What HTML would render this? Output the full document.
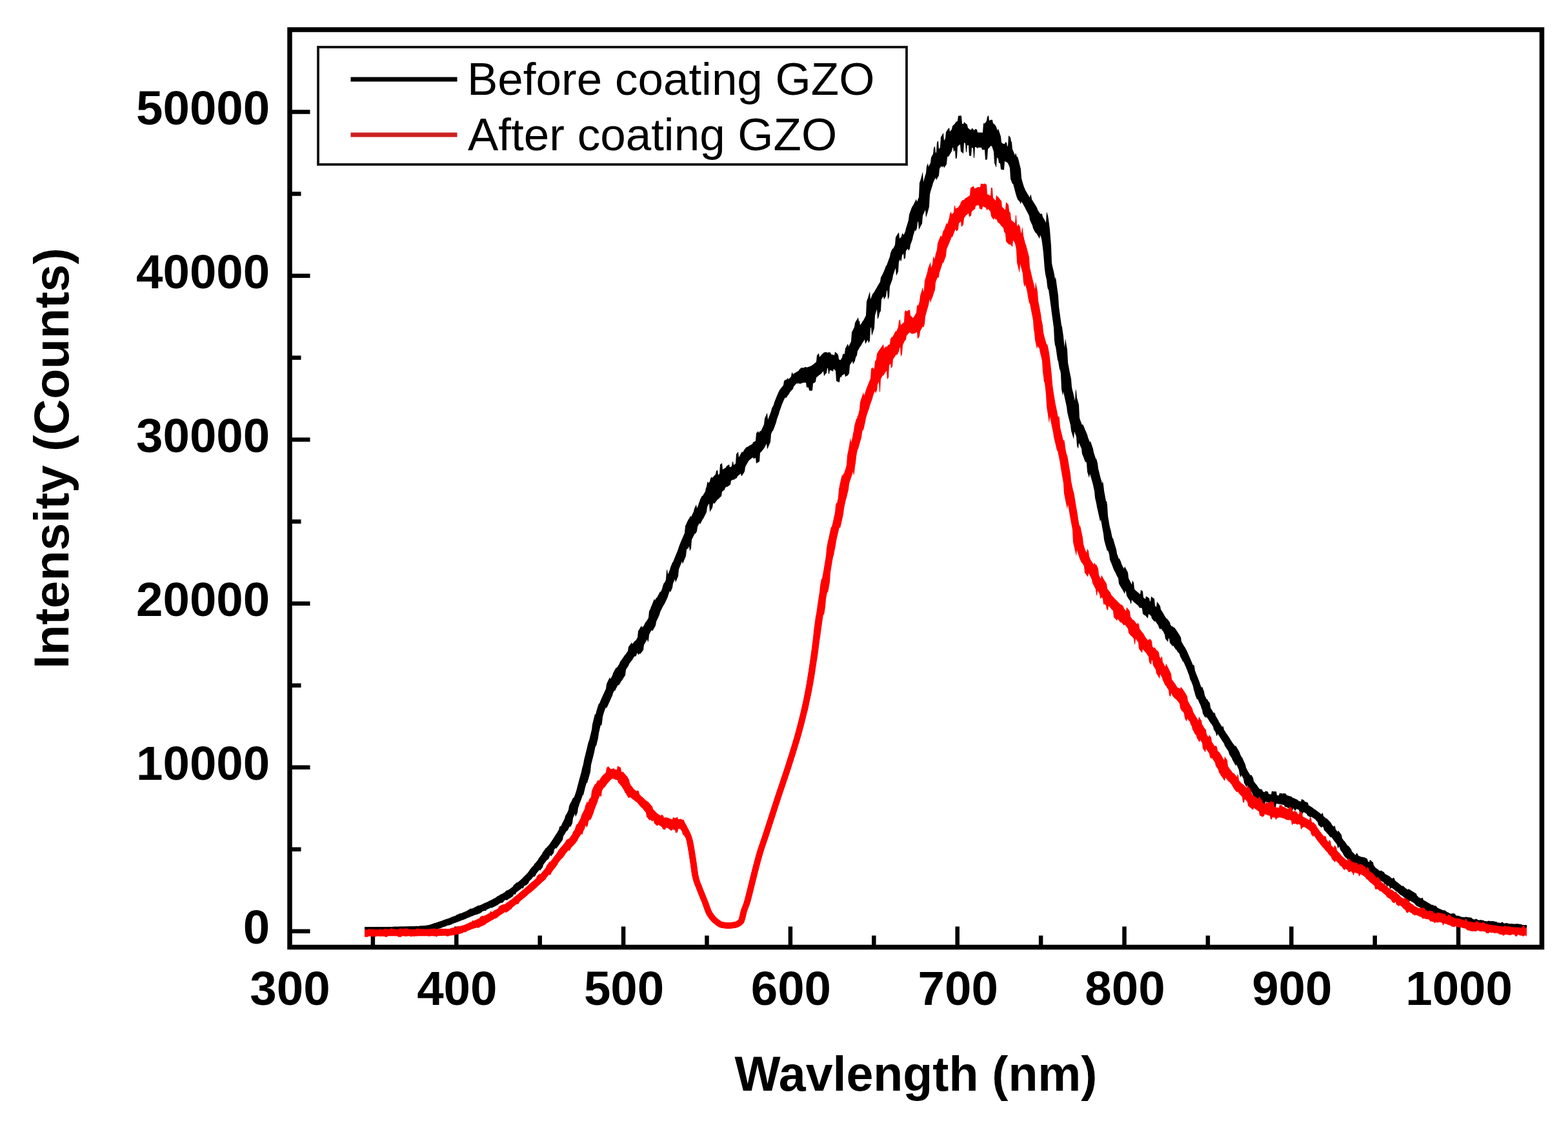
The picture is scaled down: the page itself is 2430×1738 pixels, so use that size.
<!DOCTYPE html>
<html><head><meta charset="utf-8"><title>Intensity vs Wavlength</title>
<style>
html,body{margin:0;padding:0;background:#fff;}
svg{display:block;}
</style></head>
<body>
<svg width="2430" height="1738" viewBox="0 0 2430 1738">
<rect width="2430" height="1738" fill="#fff"/>
<g stroke="#000" stroke-width="6.5" fill="none">
<line x1="577.9" y1="1468" x2="577.9" y2="1450.5"/><line x1="707.3" y1="1468" x2="707.3" y2="1436.5"/><line x1="836.7" y1="1468" x2="836.7" y2="1450.5"/><line x1="966.1" y1="1468" x2="966.1" y2="1436.5"/><line x1="1095.5" y1="1468" x2="1095.5" y2="1450.5"/><line x1="1224.9" y1="1468" x2="1224.9" y2="1436.5"/><line x1="1354.3" y1="1468" x2="1354.3" y2="1450.5"/><line x1="1483.7" y1="1468" x2="1483.7" y2="1436.5"/><line x1="1613.1" y1="1468" x2="1613.1" y2="1450.5"/><line x1="1742.5" y1="1468" x2="1742.5" y2="1436.5"/><line x1="1871.9" y1="1468" x2="1871.9" y2="1450.5"/><line x1="2001.3" y1="1468" x2="2001.3" y2="1436.5"/><line x1="2130.7" y1="1468" x2="2130.7" y2="1450.5"/><line x1="2260.1" y1="1468" x2="2260.1" y2="1436.5"/><line x1="449" y1="1443.8" x2="480.5" y2="1443.8"/><line x1="449" y1="1316.8" x2="466.5" y2="1316.8"/><line x1="449" y1="1189.7" x2="480.5" y2="1189.7"/><line x1="449" y1="1062.7" x2="466.5" y2="1062.7"/><line x1="449" y1="935.7" x2="480.5" y2="935.7"/><line x1="449" y1="808.6" x2="466.5" y2="808.6"/><line x1="449" y1="681.6" x2="480.5" y2="681.6"/><line x1="449" y1="554.6" x2="466.5" y2="554.6"/><line x1="449" y1="427.6" x2="480.5" y2="427.6"/><line x1="449" y1="300.5" x2="466.5" y2="300.5"/><line x1="449" y1="173.5" x2="480.5" y2="173.5"/>
</g>
<g fill="#000" stroke="none"><polygon points="565,1437.2 566,1437.2 567,1437.2 568,1437.2 569,1437.2 570,1437.2 571,1437.2 572,1437.2 573,1437.2 574,1437.2 575,1437.2 576,1437.2 577,1437.2 578,1437.2 579,1437.2 580,1437.2 581,1437.2 582,1437.2 583,1437.1 584,1437.1 585,1437.1 586,1437.1 587,1437.1 588,1437.1 589,1437.1 590,1437.1 591,1437.1 592,1437.0 593,1437.0 594,1437.0 595,1437.0 596,1437.0 597,1437.0 598,1436.9 599,1436.9 600,1436.9 601,1436.9 602,1436.9 603,1436.8 604,1436.9 605,1436.9 606,1436.9 607,1436.9 608,1436.9 609,1436.8 610,1436.8 611,1436.8 612,1436.8 613,1436.8 614,1436.8 615,1436.8 616,1436.7 617,1436.7 618,1436.7 619,1436.6 620,1436.6 621,1436.5 622,1436.6 623,1436.6 624,1436.4 625,1436.4 626,1436.3 627,1436.4 628,1436.4 629,1436.4 630,1436.4 631,1436.3 632,1436.4 633,1436.3 634,1436.3 635,1436.3 636,1436.3 637,1436.2 638,1436.3 639,1436.2 640,1436.2 641,1436.2 642,1436.1 643,1436.1 644,1435.7 645,1435.7 646,1435.7 647,1435.9 648,1435.9 649,1435.8 650,1435.8 651,1435.6 652,1435.5 653,1435.5 654,1435.4 655,1435.4 656,1435.3 657,1435.2 658,1435.2 659,1434.9 660,1434.8 661,1434.7 662,1434.5 663,1434.3 664,1434.3 665,1434.1 666,1433.8 667,1433.5 668,1433.2 669,1432.9 670,1432.5 671,1432.1 672,1431.8 673,1431.3 674,1431.0 675,1430.9 676,1430.6 677,1430.3 678,1429.7 679,1429.4 680,1429.1 681,1428.7 682,1428.6 683,1428.2 684,1427.9 685,1427.5 686,1427.0 687,1426.6 688,1426.3 689,1425.9 690,1425.5 691,1425.1 692,1424.9 693,1424.5 694,1424.4 695,1424.0 696,1423.6 697,1423.3 698,1422.9 699,1422.1 700,1421.7 701,1421.3 702,1420.9 703,1420.5 704,1420.6 705,1420.2 706,1419.8 707,1418.7 708,1418.3 709,1417.8 710,1417.4 711,1417.0 712,1416.5 713,1416.1 714,1416.2 715,1415.8 716,1415.4 717,1414.9 718,1414.5 719,1414.0 720,1413.8 721,1413.3 722,1412.9 723,1412.4 724,1412.0 725,1411.0 726,1410.6 727,1410.1 728,1409.3 729,1408.8 730,1408.4 731,1408.9 732,1408.4 733,1408.0 734,1407.6 735,1407.2 736,1406.3 737,1405.9 738,1405.5 739,1405.1 740,1404.3 741,1403.9 742,1403.5 743,1403.9 744,1403.5 745,1403.1 746,1402.6 747,1402.2 748,1401.7 749,1401.0 750,1400.6 751,1400.1 752,1399.7 753,1399.2 754,1398.8 755,1398.4 756,1397.9 757,1397.5 758,1396.8 759,1396.3 760,1395.9 761,1395.4 762,1394.9 763,1394.4 764,1393.8 765,1393.3 766,1392.8 767,1392.3 768,1391.7 769,1391.2 770,1390.1 771,1389.5 772,1389.0 773,1388.5 774,1387.9 775,1387.2 776,1386.6 777,1386.0 778,1385.9 779,1385.2 780,1384.6 781,1383.9 782,1383.2 783,1382.5 784,1381.5 785,1380.8 786,1380.1 787,1380.4 788,1379.6 789,1378.9 790,1378.2 791,1377.5 792,1376.7 793,1375.9 794,1375.2 795,1374.4 796,1372.2 797,1371.4 798,1370.5 799,1369.7 800,1368.8 801,1368.0 802,1368.3 803,1367.5 804,1366.6 805,1365.7 806,1364.9 807,1363.9 808,1363.1 809,1362.2 810,1361.0 811,1360.0 812,1359.0 813,1358.0 814,1357.0 815,1356.2 816,1355.1 817,1354.0 818,1352.9 819,1351.5 820,1350.3 821,1348.5 822,1347.3 823,1346.1 824,1344.8 825,1343.6 826,1343.0 827,1341.8 828,1339.7 829,1338.4 830,1337.8 831,1336.5 832,1335.2 833,1333.9 834,1332.5 835,1330.5 836,1329.2 837,1327.9 838,1326.6 839,1325.2 840,1323.9 841,1321.6 842,1320.2 843,1318.8 844,1317.4 845,1316.0 846,1314.6 847,1314.5 848,1313.1 849,1311.7 850,1311.1 851,1309.7 852,1308.3 853,1306.7 854,1305.2 855,1303.8 856,1302.3 857,1300.7 858,1299.2 859,1297.7 860,1296.1 861,1294.6 862,1293.0 863,1291.4 864,1289.8 865,1288.1 866,1286.4 867,1282.2 868,1280.4 869,1281.4 870,1279.6 871,1277.1 872,1275.2 873,1273.2 874,1271.2 875,1269.1 876,1265.2 877,1263.0 878,1262.2 879,1260.0 880,1257.7 881,1255.4 882,1249.6 883,1247.2 884,1244.9 885,1243.8 886,1241.5 887,1239.2 888,1237.0 889,1237.2 890,1234.9 891,1232.5 892,1229.6 893,1226.6 894,1222.7 895,1218.6 896,1215.2 897,1211.2 898,1207.2 899,1203.7 900,1200.2 901,1196.8 902,1191.6 903,1188.1 904,1184.5 905,1178.4 906,1174.6 907,1170.4 908,1166.4 909,1162.4 910,1158.3 911,1154.1 912,1149.9 913,1148.0 914,1143.8 915,1139.7 916,1135.6 917,1131.6 918,1123.1 919,1119.1 920,1115.1 921,1111.0 922,1106.8 923,1107.9 924,1103.8 925,1100.0 926,1096.7 927,1093.8 928,1091.1 929,1090.4 930,1087.9 931,1085.6 932,1083.3 933,1081.1 934,1078.7 935,1076.6 936,1074.6 937,1072.3 938,1070.1 939,1068.0 940,1060.5 941,1058.3 942,1056.2 943,1054.1 944,1052.1 945,1050.0 946,1053.0 947,1051.0 948,1049.1 949,1047.2 950,1043.7 951,1041.9 952,1040.1 953,1038.3 954,1036.6 955,1034.8 956,1035.4 957,1033.7 958,1032.0 959,1030.4 960,1028.8 961,1026.0 962,1024.4 963,1023.5 964,1022.0 965,1020.4 966,1018.9 967,1017.4 968,1016.0 969,1015.1 970,1013.7 971,1012.2 972,1010.8 973,1009.4 974,1003.0 975,1001.6 976,1000.2 977,998.8 978,997.5 979,996.1 980,998.7 981,997.3 982,996.1 983,994.8 984,993.6 985,993.2 986,991.9 987,989.7 988,988.4 989,978.3 990,976.8 991,975.2 992,973.6 993,971.8 994,969.9 995,973.3 996,971.3 997,971.5 998,969.5 999,967.5 1000,965.5 1001,963.7 1002,963.1 1003,961.3 1004,959.5 1005,957.7 1006,947.6 1007,945.7 1008,943.8 1009,940.6 1010,938.4 1011,936.0 1012,933.6 1013,931.1 1014,928.6 1015,931.1 1016,928.8 1017,926.7 1018,926.7 1019,924.7 1020,922.8 1021,920.9 1022,919.0 1023,917.0 1024,917.8 1025,915.5 1026,912.9 1027,908.9 1028,906.2 1029,903.5 1030,903.5 1031,900.9 1032,898.4 1033,885.0 1034,882.6 1035,890.6 1036,888.3 1037,885.9 1038,883.5 1039,879.8 1040,877.3 1041,874.7 1042,872.2 1043,871.3 1044,868.8 1045,866.3 1046,863.7 1047,861.2 1048,859.0 1049,856.5 1050,853.9 1051,851.3 1052,847.9 1053,845.3 1054,842.8 1055,840.3 1056,837.9 1057,835.5 1058,833.4 1059,831.0 1060,828.7 1061,826.5 1062,815.6 1063,813.4 1064,811.3 1065,809.1 1066,807.0 1067,804.9 1068,803.9 1069,801.8 1070,799.8 1071,801.4 1072,799.4 1073,797.3 1074,795.3 1075,793.3 1076,788.5 1077,786.4 1078,784.3 1079,782.2 1080,788.0 1081,785.9 1082,783.7 1083,779.9 1084,777.8 1085,774.5 1086,772.4 1087,770.4 1088,768.4 1089,768.9 1090,767.0 1091,765.2 1092,763.5 1093,761.9 1094,756.4 1095,754.8 1096,748.2 1097,746.5 1098,749.2 1099,747.7 1100,746.2 1101,742.0 1102,740.6 1103,739.3 1104,740.9 1105,739.7 1106,738.5 1107,737.4 1108,736.3 1109,735.3 1110,730.3 1111,729.4 1112,728.6 1113,736.3 1114,735.5 1115,734.7 1116,720.2 1117,719.5 1118,718.8 1119,718.1 1120,727.9 1121,727.2 1122,726.7 1123,726.1 1124,725.4 1125,724.7 1126,722.6 1127,721.9 1128,721.3 1129,720.7 1130,720.1 1131,724.5 1132,723.9 1133,723.4 1134,722.8 1135,716.0 1136,715.4 1137,721.0 1138,720.3 1139,719.6 1140,718.7 1141,704.1 1142,703.0 1143,701.7 1144,700.1 1145,708.9 1146,707.2 1147,705.4 1148,703.6 1149,701.8 1150,700.0 1151,701.6 1152,700.0 1153,697.8 1154,696.4 1155,695.3 1156,694.1 1157,693.2 1158,693.1 1159,692.4 1160,691.7 1161,691.1 1162,690.5 1163,689.9 1164,689.4 1165,688.8 1166,688.4 1167,685.7 1168,685.2 1169,684.7 1170,684.2 1171,683.5 1172,671.5 1173,670.7 1174,669.6 1175,668.2 1176,671.3 1177,669.6 1178,667.8 1179,668.7 1180,666.7 1181,664.6 1182,662.5 1183,660.2 1184,658.0 1185,648.9 1186,646.6 1187,644.4 1188,642.1 1189,639.9 1190,650.6 1191,648.2 1192,645.5 1193,642.9 1194,640.3 1195,637.6 1196,633.4 1197,630.9 1198,629.9 1199,627.2 1200,623.8 1201,621.3 1202,618.7 1203,616.2 1204,613.8 1205,611.4 1206,609.1 1207,606.9 1208,605.0 1209,603.4 1210,602.4 1211,601.0 1212,599.7 1213,598.5 1214,597.2 1215,590.9 1216,589.7 1217,588.6 1218,589.3 1219,588.2 1220,587.1 1221,586.0 1222,588.2 1223,587.0 1224,585.9 1225,584.8 1226,583.7 1227,578.3 1228,577.2 1229,580.5 1230,579.6 1231,578.8 1232,578.1 1233,577.7 1234,577.1 1235,576.5 1236,575.8 1237,575.2 1238,574.6 1239,572.4 1240,571.8 1241,570.8 1242,570.3 1243,569.8 1244,570.6 1245,570.2 1246,569.8 1247,569.4 1248,569.1 1249,568.7 1250,569.7 1251,569.4 1252,569.1 1253,568.8 1254,568.5 1255,568.1 1256,567.7 1257,567.2 1258,566.7 1259,566.0 1260,565.2 1261,564.4 1262,563.6 1263,562.8 1264,561.9 1265,561.1 1266,550.9 1267,550.0 1268,548.8 1269,547.4 1270,553.8 1271,552.5 1272,551.3 1273,550.2 1274,549.2 1275,548.3 1276,547.2 1277,546.6 1278,546.3 1279,546.1 1280,546.1 1281,546.1 1282,546.7 1283,546.8 1284,546.0 1285,546.2 1286,546.4 1287,546.6 1288,549.2 1289,549.5 1290,549.8 1291,550.1 1292,550.4 1293,550.7 1294,545.5 1295,546.1 1296,546.9 1297,547.8 1298,548.9 1299,550.0 1300,556.7 1301,557.7 1302,558.6 1303,557.4 1304,555.9 1305,554.3 1306,549.7 1307,548.0 1308,549.5 1309,548.0 1310,540.2 1311,538.5 1312,536.6 1313,534.7 1314,532.7 1315,537.4 1316,535.4 1317,533.4 1318,531.5 1319,529.5 1320,515.3 1321,513.3 1322,511.3 1323,509.3 1324,507.3 1325,500.5 1326,498.8 1327,497.1 1328,495.4 1329,493.8 1330,492.1 1331,498.5 1332,496.8 1333,504.3 1334,502.7 1335,501.2 1336,499.6 1337,498.0 1338,496.7 1339,494.9 1340,493.1 1341,491.1 1342,489.0 1343,467.5 1344,464.5 1345,461.9 1346,458.6 1347,455.1 1348,451.8 1349,464.4 1350,461.6 1351,459.1 1352,456.6 1353,454.4 1354,454.3 1355,452.3 1356,450.5 1357,448.7 1358,447.0 1359,445.4 1360,443.4 1361,441.8 1362,440.3 1363,438.6 1364,437.0 1365,430.3 1366,428.5 1367,426.7 1368,424.7 1369,422.6 1370,420.3 1371,417.7 1372,414.9 1373,412.1 1374,411.7 1375,408.8 1376,406.0 1377,403.2 1378,400.5 1379,397.9 1380,392.4 1381,390.1 1382,387.8 1383,385.6 1384,385.8 1385,383.8 1386,381.7 1387,379.8 1388,368.0 1389,366.2 1390,364.5 1391,362.9 1392,361.5 1393,360.2 1394,370.1 1395,369.0 1396,367.9 1397,366.8 1398,362.5 1399,361.3 1400,364.5 1401,362.9 1402,361.0 1403,358.7 1404,354.0 1405,350.9 1406,347.7 1407,344.4 1408,341.1 1409,332.8 1410,329.7 1411,326.9 1412,324.3 1413,321.8 1414,319.4 1415,318.8 1416,316.6 1417,314.6 1418,312.5 1419,310.5 1420,308.5 1421,312.9 1422,310.8 1423,308.0 1424,305.8 1425,283.5 1426,280.8 1427,277.6 1428,274.0 1429,270.0 1430,265.9 1431,282.6 1432,278.6 1433,274.8 1434,271.5 1435,268.6 1436,257.9 1437,255.4 1438,252.9 1439,258.8 1440,256.6 1441,254.6 1442,252.6 1443,244.2 1444,242.3 1445,240.4 1446,238.7 1447,229.7 1448,228.0 1449,226.4 1450,237.5 1451,236.0 1452,221.0 1453,219.5 1454,218.0 1455,231.3 1456,229.8 1457,228.3 1458,212.5 1459,210.9 1460,209.2 1461,207.4 1462,205.7 1463,218.0 1464,216.3 1465,214.6 1466,204.9 1467,203.3 1468,201.7 1469,200.3 1470,198.9 1471,197.7 1472,204.1 1473,202.9 1474,201.8 1475,200.6 1476,195.5 1477,194.4 1478,193.6 1479,192.6 1480,191.7 1481,189.4 1482,188.8 1483,188.2 1484,187.6 1485,179.8 1486,179.6 1487,179.4 1488,179.3 1489,179.4 1490,179.5 1491,191.8 1492,192.1 1493,192.6 1494,189.3 1495,190.0 1496,190.8 1497,191.7 1498,192.6 1499,193.6 1500,198.2 1501,199.1 1502,200.0 1503,200.6 1504,201.1 1505,201.4 1506,198.8 1507,199.2 1508,199.5 1509,201.7 1510,202.0 1511,200.1 1512,200.3 1513,200.4 1514,200.6 1515,205.3 1516,205.3 1517,205.4 1518,205.4 1519,205.4 1520,205.4 1521,205.4 1522,205.4 1523,205.4 1524,191.2 1525,191.3 1526,191.3 1527,190.5 1528,188.7 1529,186.9 1530,181.3 1531,179.8 1532,178.7 1533,187.0 1534,186.4 1535,186.1 1536,185.8 1537,185.7 1538,185.8 1539,191.2 1540,191.8 1541,192.4 1542,193.6 1543,194.9 1544,196.8 1545,200.1 1546,202.7 1547,199.3 1548,202.3 1549,205.4 1550,208.5 1551,211.5 1552,220.4 1553,221.9 1554,222.4 1555,222.8 1556,223.1 1557,223.3 1558,220.4 1559,220.6 1560,220.9 1561,226.4 1562,226.8 1563,210.1 1564,211.1 1565,212.1 1566,213.2 1567,219.0 1568,220.5 1569,231.5 1570,233.5 1571,235.9 1572,238.6 1573,241.3 1574,236.7 1575,240.0 1576,243.5 1577,242.7 1578,246.2 1579,250.0 1580,254.3 1581,258.2 1582,262.3 1583,275.9 1584,280.0 1585,283.6 1586,286.8 1587,290.0 1588,292.0 1589,294.8 1590,296.5 1591,298.0 1592,300.1 1593,301.6 1594,303.1 1595,304.7 1596,306.4 1597,301.6 1598,303.0 1599,309.1 1600,310.6 1601,312.2 1602,313.8 1603,315.2 1604,316.9 1605,318.6 1606,320.2 1607,321.9 1608,325.1 1609,326.7 1610,328.2 1611,329.7 1612,331.1 1613,332.3 1614,330.8 1615,332.0 1616,336.4 1617,337.8 1618,339.4 1619,341.2 1620,343.2 1621,345.6 1622,328.2 1623,330.9 1624,334.3 1625,340.2 1626,348.1 1627,356.3 1628,369.0 1629,381.0 1630,408.0 1631,412.8 1632,416.9 1633,421.1 1634,426.2 1635,432.4 1636,429.4 1637,436.8 1638,444.2 1639,451.5 1640,458.5 1641,475.1 1642,482.4 1643,489.7 1644,497.0 1645,504.3 1646,507.3 1647,514.4 1648,521.3 1649,531.9 1650,538.5 1651,524.5 1652,530.5 1653,536.4 1654,542.1 1655,562.1 1656,567.4 1657,572.7 1658,577.8 1659,582.7 1660,587.5 1661,600.3 1662,604.9 1663,608.6 1664,613.0 1665,617.3 1666,621.5 1667,602.9 1668,606.8 1669,616.7 1670,620.3 1671,623.9 1672,627.2 1673,647.9 1674,650.9 1675,653.7 1676,656.4 1677,658.9 1678,657.4 1679,659.8 1680,662.1 1681,664.8 1682,667.0 1683,669.3 1684,671.5 1685,673.9 1686,677.9 1687,680.4 1688,682.9 1689,685.4 1690,684.3 1691,687.1 1692,690.0 1693,692.9 1694,695.9 1695,701.4 1696,704.5 1697,707.6 1698,710.8 1699,711.2 1700,714.5 1701,718.3 1702,726.6 1703,730.4 1704,734.4 1705,738.4 1706,742.6 1707,745.2 1708,749.8 1709,746.0 1710,751.2 1711,760.6 1712,766.0 1713,771.4 1714,776.9 1715,777.1 1716,783.4 1717,799.8 1718,806.1 1719,812.0 1720,817.3 1721,820.6 1722,824.8 1723,830.3 1724,834.3 1725,834.8 1726,838.5 1727,842.0 1728,845.5 1729,848.8 1730,852.0 1731,858.2 1732,861.1 1733,863.9 1734,866.6 1735,866.1 1736,868.5 1737,870.7 1738,874.2 1739,876.2 1740,878.2 1741,880.1 1742,882.0 1743,878.1 1744,880.0 1745,881.9 1746,883.8 1747,885.8 1748,887.8 1749,896.5 1750,898.5 1751,900.5 1752,902.4 1753,904.4 1754,906.2 1755,900.0 1756,901.8 1757,903.4 1758,913.1 1759,914.5 1760,915.2 1761,916.3 1762,917.3 1763,917.9 1764,918.8 1765,919.7 1766,920.5 1767,921.4 1768,914.4 1769,915.2 1770,915.9 1771,916.7 1772,926.4 1773,927.1 1774,927.9 1775,928.7 1776,924.2 1777,924.9 1778,925.5 1779,926.2 1780,926.8 1781,927.5 1782,932.0 1783,932.6 1784,924.7 1785,925.4 1786,926.2 1787,926.9 1788,927.7 1789,928.6 1790,939.0 1791,940.0 1792,941.2 1793,932.9 1794,934.1 1795,935.5 1796,936.8 1797,938.3 1798,939.7 1799,945.1 1800,946.6 1801,948.1 1802,949.7 1803,951.2 1804,953.3 1805,954.9 1806,956.4 1807,957.9 1808,959.3 1809,959.5 1810,960.9 1811,962.3 1812,963.6 1813,965.0 1814,968.8 1815,970.1 1816,971.4 1817,970.4 1818,971.7 1819,973.1 1820,972.8 1821,974.2 1822,975.6 1823,977.1 1824,978.5 1825,980.0 1826,981.6 1827,983.1 1828,984.7 1829,986.3 1830,988.0 1831,995.0 1832,996.6 1833,998.3 1834,1000.0 1835,1001.7 1836,1002.9 1837,1004.7 1838,1006.8 1839,1008.6 1840,1010.6 1841,1013.3 1842,1015.3 1843,1017.5 1844,1019.7 1845,1022.0 1846,1024.4 1847,1026.7 1848,1029.3 1849,1031.8 1850,1030.3 1851,1032.9 1852,1040.0 1853,1042.6 1854,1045.3 1855,1047.5 1856,1050.1 1857,1052.4 1858,1055.1 1859,1057.8 1860,1060.7 1861,1063.5 1862,1066.3 1863,1064.2 1864,1067.0 1865,1069.7 1866,1072.1 1867,1077.9 1868,1080.1 1869,1082.2 1870,1084.2 1871,1084.0 1872,1086.0 1873,1087.8 1874,1088.5 1875,1090.3 1876,1097.2 1877,1098.9 1878,1100.6 1879,1102.3 1880,1104.0 1881,1105.7 1882,1104.6 1883,1106.3 1884,1109.9 1885,1111.6 1886,1113.2 1887,1114.9 1888,1116.5 1889,1119.0 1890,1120.6 1891,1122.2 1892,1123.8 1893,1125.4 1894,1127.0 1895,1125.4 1896,1127.0 1897,1131.4 1898,1132.9 1899,1134.5 1900,1136.2 1901,1137.8 1902,1139.0 1903,1140.6 1904,1142.1 1905,1143.6 1906,1145.1 1907,1147.1 1908,1148.6 1909,1150.0 1910,1151.5 1911,1153.0 1912,1154.0 1913,1155.5 1914,1157.0 1915,1156.1 1916,1157.7 1917,1159.3 1918,1161.1 1919,1162.8 1920,1164.5 1921,1166.3 1922,1169.4 1923,1171.4 1924,1173.5 1925,1174.2 1926,1176.4 1927,1178.7 1928,1181.0 1929,1183.3 1930,1185.5 1931,1189.9 1932,1192.0 1933,1194.0 1934,1195.9 1935,1197.6 1936,1199.3 1937,1200.8 1938,1202.5 1939,1200.9 1940,1202.6 1941,1204.3 1942,1206.0 1943,1211.1 1944,1212.7 1945,1213.7 1946,1215.2 1947,1216.2 1948,1217.6 1949,1218.9 1950,1220.8 1951,1221.9 1952,1222.9 1953,1223.8 1954,1223.2 1955,1223.8 1956,1224.3 1957,1227.0 1958,1227.4 1959,1227.9 1960,1228.3 1961,1226.3 1962,1226.6 1963,1227.0 1964,1227.3 1965,1227.6 1966,1230.8 1967,1231.0 1968,1231.3 1969,1231.5 1970,1231.7 1971,1226.6 1972,1226.8 1973,1226.9 1974,1227.0 1975,1227.2 1976,1227.0 1977,1227.1 1978,1227.2 1979,1232.9 1980,1233.0 1981,1233.2 1982,1233.3 1983,1229.5 1984,1229.7 1985,1229.9 1986,1230.1 1987,1230.3 1988,1230.5 1989,1229.9 1990,1230.1 1991,1230.3 1992,1230.6 1993,1230.8 1994,1233.0 1995,1233.3 1996,1233.5 1997,1233.8 1998,1234.1 1999,1234.4 2000,1234.6 2001,1235.0 2002,1235.3 2003,1236.7 2004,1237.0 2005,1237.4 2006,1237.7 2007,1238.1 2008,1238.9 2009,1239.2 2010,1239.6 2011,1239.9 2012,1241.4 2013,1241.7 2014,1242.1 2015,1242.5 2016,1242.9 2017,1238.9 2018,1239.3 2019,1239.8 2020,1240.2 2021,1240.7 2022,1242.7 2023,1243.3 2024,1243.1 2025,1243.7 2026,1244.2 2027,1244.8 2028,1248.6 2029,1249.2 2030,1249.6 2031,1250.2 2032,1250.8 2033,1251.4 2034,1252.1 2035,1253.1 2036,1253.7 2037,1254.4 2038,1255.0 2039,1255.7 2040,1256.5 2041,1257.3 2042,1258.0 2043,1258.7 2044,1259.5 2045,1260.3 2046,1261.1 2047,1261.9 2048,1262.7 2049,1260.0 2050,1260.9 2051,1265.3 2052,1266.2 2053,1267.1 2054,1268.1 2055,1269.0 2056,1268.8 2057,1269.8 2058,1270.8 2059,1271.8 2060,1272.9 2061,1274.0 2062,1275.1 2063,1276.3 2064,1278.4 2065,1279.6 2066,1280.8 2067,1282.1 2068,1279.8 2069,1281.2 2070,1285.7 2071,1287.0 2072,1288.4 2073,1289.8 2074,1287.5 2075,1288.9 2076,1290.3 2077,1291.7 2078,1293.1 2079,1294.4 2080,1299.8 2081,1301.1 2082,1302.4 2083,1303.8 2084,1304.4 2085,1305.9 2086,1307.4 2087,1308.9 2088,1310.3 2089,1311.8 2090,1311.3 2091,1312.8 2092,1314.2 2093,1315.5 2094,1316.8 2095,1319.7 2096,1320.9 2097,1321.9 2098,1322.8 2099,1324.3 2100,1325.1 2101,1325.7 2102,1322.7 2103,1323.2 2104,1323.7 2105,1326.5 2106,1327.0 2107,1327.4 2108,1327.8 2109,1328.2 2110,1328.7 2111,1328.4 2112,1328.8 2113,1329.2 2114,1328.9 2115,1329.4 2116,1329.9 2117,1330.5 2118,1331.1 2119,1331.7 2120,1335.4 2121,1336.1 2122,1336.8 2123,1333.0 2124,1333.8 2125,1334.6 2126,1335.4 2127,1336.3 2128,1337.2 2129,1341.8 2130,1342.7 2131,1344.6 2132,1345.4 2133,1346.3 2134,1346.8 2135,1347.6 2136,1348.4 2137,1349.2 2138,1349.9 2139,1350.6 2140,1349.5 2141,1350.1 2142,1350.7 2143,1351.2 2144,1351.8 2145,1352.3 2146,1354.6 2147,1355.1 2148,1355.7 2149,1356.2 2150,1356.8 2151,1357.4 2152,1357.8 2153,1358.5 2154,1359.1 2155,1360.3 2156,1361.0 2157,1361.7 2158,1362.3 2159,1360.4 2160,1361.1 2161,1361.9 2162,1365.1 2163,1365.9 2164,1366.7 2165,1367.4 2166,1368.3 2167,1369.1 2168,1369.9 2169,1370.7 2170,1371.5 2171,1372.3 2172,1373.2 2173,1374.0 2174,1373.1 2175,1373.9 2176,1374.7 2177,1375.9 2178,1376.7 2179,1377.4 2180,1378.2 2181,1378.9 2182,1379.6 2183,1378.1 2184,1378.8 2185,1379.5 2186,1380.0 2187,1380.7 2188,1381.3 2189,1382.0 2190,1382.5 2191,1383.2 2192,1383.8 2193,1384.4 2194,1385.0 2195,1385.7 2196,1388.7 2197,1389.3 2198,1390.7 2199,1391.3 2200,1391.9 2201,1392.5 2202,1392.2 2203,1392.8 2204,1391.7 2205,1392.3 2206,1395.4 2207,1395.9 2208,1396.5 2209,1397.0 2210,1397.6 2211,1398.2 2212,1398.8 2213,1399.4 2214,1400.0 2215,1400.6 2216,1401.2 2217,1401.8 2218,1402.4 2219,1403.0 2220,1402.6 2221,1403.2 2222,1403.8 2223,1404.4 2224,1403.9 2225,1404.5 2226,1405.1 2227,1406.7 2228,1407.2 2229,1407.9 2230,1408.5 2231,1409.0 2232,1409.3 2233,1409.8 2234,1410.2 2235,1410.7 2236,1411.1 2237,1411.5 2238,1411.1 2239,1411.5 2240,1412.0 2241,1412.4 2242,1413.8 2243,1414.2 2244,1414.6 2245,1415.0 2246,1415.4 2247,1416.3 2248,1416.6 2249,1417.0 2250,1416.0 2251,1416.4 2252,1415.8 2253,1416.2 2254,1416.5 2255,1416.8 2256,1419.1 2257,1419.4 2258,1419.7 2259,1419.5 2260,1419.8 2261,1420.0 2262,1420.3 2263,1421.1 2264,1421.3 2265,1421.6 2266,1421.8 2267,1422.0 2268,1421.8 2269,1422.0 2270,1422.2 2271,1421.4 2272,1421.6 2273,1421.8 2274,1422.0 2275,1422.2 2276,1422.3 2277,1422.2 2278,1422.4 2279,1422.6 2280,1422.8 2281,1422.9 2282,1424.8 2283,1425.0 2284,1425.3 2285,1425.4 2286,1425.6 2287,1424.6 2288,1424.8 2289,1425.0 2290,1426.2 2291,1426.4 2292,1426.5 2293,1426.7 2294,1426.1 2295,1426.2 2296,1426.4 2297,1426.5 2298,1426.7 2299,1426.8 2300,1427.8 2301,1427.9 2302,1428.1 2303,1428.2 2304,1428.4 2305,1428.5 2306,1427.6 2307,1427.7 2308,1427.8 2309,1428.0 2310,1428.1 2311,1428.2 2312,1428.0 2313,1428.1 2314,1428.2 2315,1428.3 2316,1428.5 2317,1428.9 2318,1429.1 2319,1429.3 2320,1429.4 2321,1430.4 2322,1430.5 2323,1430.6 2324,1430.7 2325,1430.8 2326,1430.9 2327,1429.6 2328,1429.7 2329,1429.8 2330,1431.3 2331,1431.4 2332,1431.5 2333,1431.6 2334,1431.0 2335,1431.1 2336,1431.2 2337,1431.8 2338,1431.9 2339,1431.9 2340,1432.2 2341,1432.3 2342,1432.0 2343,1432.1 2344,1432.2 2345,1432.3 2346,1432.4 2347,1432.5 2348,1432.6 2349,1432.6 2350,1432.1 2351,1432.2 2352,1432.3 2353,1432.4 2354,1432.5 2355,1432.8 2356,1432.9 2357,1432.9 2358,1433.0 2359,1433.9 2360,1434.0 2361,1434.1 2362,1434.2 2363,1434.3 2364,1433.9 2365,1434.0 2366,1434.0 2366,1445.2 2365,1445.1 2364,1445.0 2363,1445.0 2362,1444.9 2361,1444.8 2360,1444.7 2359,1446.1 2358,1446.0 2357,1445.9 2356,1445.8 2355,1445.7 2354,1445.6 2353,1444.1 2352,1444.0 2351,1443.9 2350,1443.8 2349,1444.8 2348,1444.7 2347,1444.6 2346,1444.6 2345,1444.5 2344,1444.4 2343,1444.3 2342,1444.2 2341,1444.1 2340,1444.0 2339,1443.9 2338,1442.7 2337,1442.6 2336,1442.5 2335,1442.7 2334,1442.6 2333,1442.5 2332,1442.4 2331,1442.7 2330,1442.6 2329,1442.5 2328,1442.4 2327,1441.8 2326,1441.7 2325,1441.5 2324,1441.4 2323,1441.3 2322,1441.2 2321,1441.2 2320,1441.1 2319,1441.0 2318,1440.9 2317,1441.5 2316,1441.4 2315,1441.3 2314,1441.2 2313,1440.9 2312,1440.8 2311,1440.3 2310,1440.2 2309,1440.1 2308,1440.0 2307,1439.8 2306,1439.7 2305,1439.3 2304,1439.2 2303,1439.1 2302,1439.2 2301,1439.0 2300,1438.9 2299,1438.8 2298,1438.6 2297,1438.5 2296,1438.4 2295,1438.2 2294,1438.1 2293,1437.9 2292,1437.8 2291,1437.6 2290,1437.7 2289,1437.6 2288,1437.4 2287,1438.0 2286,1437.9 2285,1437.7 2284,1437.6 2283,1437.4 2282,1437.2 2281,1436.4 2280,1436.2 2279,1436.0 2278,1435.8 2277,1435.8 2276,1435.6 2275,1435.4 2274,1434.3 2273,1434.1 2272,1433.9 2271,1433.7 2270,1433.5 2269,1433.3 2268,1433.3 2267,1433.1 2266,1432.7 2265,1432.5 2264,1432.3 2263,1432.1 2262,1431.8 2261,1431.6 2260,1431.7 2259,1431.4 2258,1431.2 2257,1431.0 2256,1430.7 2255,1430.4 2254,1430.2 2253,1429.9 2252,1429.7 2251,1431.0 2250,1430.7 2249,1430.4 2248,1430.2 2247,1429.9 2246,1427.8 2245,1427.5 2244,1427.2 2243,1426.8 2242,1426.5 2241,1426.1 2240,1427.2 2239,1426.8 2238,1426.5 2237,1426.1 2236,1425.7 2235,1423.7 2234,1423.3 2233,1422.9 2232,1424.6 2231,1424.2 2230,1423.8 2229,1420.9 2228,1420.4 2227,1420.0 2226,1419.5 2225,1419.0 2224,1418.5 2223,1418.4 2222,1417.9 2221,1417.3 2220,1416.8 2219,1416.3 2218,1415.7 2217,1416.0 2216,1415.4 2215,1414.8 2214,1414.3 2213,1413.7 2212,1412.9 2211,1412.4 2210,1411.8 2209,1411.2 2208,1410.6 2207,1410.1 2206,1409.9 2205,1409.3 2204,1408.8 2203,1408.2 2202,1407.7 2201,1407.1 2200,1406.8 2199,1406.3 2198,1405.7 2197,1405.3 2196,1404.7 2195,1404.2 2194,1403.6 2193,1401.4 2192,1400.9 2191,1399.9 2190,1399.3 2189,1398.7 2188,1398.1 2187,1397.5 2186,1396.9 2185,1396.3 2184,1398.1 2183,1397.5 2182,1396.9 2181,1396.3 2180,1395.7 2179,1393.1 2178,1392.4 2177,1391.8 2176,1391.5 2175,1390.8 2174,1389.6 2173,1388.9 2172,1388.2 2171,1387.9 2170,1387.1 2169,1386.4 2168,1385.2 2167,1384.4 2166,1383.4 2165,1382.6 2164,1381.8 2163,1381.5 2162,1380.7 2161,1379.6 2160,1378.9 2159,1378.1 2158,1377.3 2157,1377.0 2156,1376.3 2155,1378.4 2154,1377.7 2153,1374.3 2152,1373.6 2151,1372.9 2150,1374.7 2149,1374.1 2148,1371.5 2147,1370.9 2146,1370.3 2145,1369.7 2144,1367.8 2143,1367.3 2142,1366.7 2141,1366.2 2140,1365.7 2139,1365.1 2138,1364.5 2137,1363.9 2136,1366.9 2135,1366.3 2134,1363.1 2133,1362.4 2132,1361.7 2131,1361.0 2130,1360.3 2129,1362.6 2128,1361.8 2127,1361.0 2126,1360.1 2125,1359.3 2124,1357.1 2123,1356.2 2122,1355.4 2121,1352.7 2120,1351.9 2119,1351.0 2118,1350.2 2117,1351.9 2116,1351.1 2115,1346.7 2114,1346.0 2113,1345.4 2112,1344.9 2111,1344.3 2110,1343.9 2109,1343.4 2108,1342.9 2107,1343.7 2106,1343.3 2105,1342.9 2104,1342.4 2103,1344.4 2102,1343.9 2101,1343.5 2100,1343.0 2099,1342.5 2098,1340.5 2097,1339.9 2096,1339.3 2095,1338.7 2094,1338.0 2093,1338.6 2092,1337.7 2091,1336.8 2090,1335.8 2089,1333.3 2088,1332.2 2087,1331.0 2086,1329.8 2085,1329.5 2084,1328.2 2083,1326.8 2082,1325.3 2081,1323.1 2080,1321.6 2079,1320.2 2078,1318.7 2077,1317.2 2076,1313.7 2075,1312.2 2074,1315.2 2073,1313.9 2072,1309.4 2071,1308.1 2070,1306.7 2069,1305.4 2068,1304.3 2067,1302.9 2066,1301.5 2065,1300.2 2064,1298.8 2063,1297.4 2062,1298.6 2061,1297.2 2060,1295.9 2059,1294.6 2058,1293.4 2057,1292.2 2056,1291.2 2055,1290.1 2054,1289.0 2053,1288.0 2052,1287.0 2051,1283.1 2050,1282.1 2049,1281.2 2048,1283.4 2047,1282.4 2046,1281.5 2045,1280.7 2044,1279.8 2043,1278.9 2042,1274.4 2041,1273.6 2040,1272.8 2039,1271.1 2038,1270.3 2037,1269.6 2036,1268.8 2035,1268.1 2034,1267.4 2033,1267.0 2032,1266.3 2031,1267.3 2030,1266.7 2029,1266.0 2028,1265.4 2027,1264.8 2026,1264.3 2025,1261.8 2024,1261.2 2023,1260.6 2022,1260.1 2021,1259.6 2020,1259.0 2019,1261.8 2018,1261.3 2017,1260.8 2016,1260.3 2015,1259.9 2014,1259.5 2013,1255.7 2012,1255.3 2011,1254.9 2010,1254.5 2009,1254.1 2008,1256.8 2007,1256.5 2006,1256.1 2005,1253.8 2004,1253.5 2003,1257.2 2002,1256.9 2001,1256.6 2000,1256.3 1999,1253.8 1998,1253.5 1997,1253.2 1996,1252.9 1995,1251.8 1994,1251.6 1993,1251.3 1992,1251.0 1991,1250.8 1990,1248.3 1989,1248.0 1988,1247.8 1987,1247.6 1986,1247.4 1985,1247.1 1984,1246.9 1983,1246.7 1982,1246.5 1981,1246.4 1980,1246.3 1979,1246.2 1978,1246.1 1977,1251.5 1976,1251.4 1975,1251.3 1974,1251.1 1973,1251.0 1972,1250.9 1971,1247.1 1970,1247.0 1969,1246.8 1968,1244.7 1967,1244.5 1966,1244.3 1965,1244.0 1964,1243.8 1963,1243.5 1962,1243.3 1961,1243.0 1960,1248.2 1959,1247.9 1958,1247.5 1957,1247.1 1956,1246.7 1955,1242.1 1954,1241.7 1953,1241.2 1952,1240.7 1951,1239.5 1950,1238.9 1949,1238.3 1948,1237.7 1947,1238.4 1946,1237.5 1945,1236.5 1944,1235.5 1943,1234.3 1942,1233.2 1941,1230.2 1940,1228.8 1939,1227.5 1938,1226.0 1937,1224.5 1936,1222.5 1935,1220.9 1934,1219.3 1933,1217.6 1932,1220.6 1931,1218.9 1930,1217.2 1929,1215.5 1928,1213.8 1927,1207.2 1926,1205.5 1925,1203.6 1924,1201.6 1923,1205.4 1922,1203.2 1921,1200.9 1920,1193.9 1919,1191.6 1918,1189.3 1917,1187.1 1916,1184.9 1915,1187.5 1914,1185.5 1913,1183.6 1912,1181.8 1911,1180.1 1910,1178.4 1909,1175.6 1908,1174.0 1907,1172.5 1906,1170.9 1905,1169.4 1904,1165.2 1903,1163.7 1902,1162.3 1901,1160.8 1900,1159.1 1899,1157.7 1898,1156.2 1897,1153.0 1896,1151.5 1895,1150.0 1894,1148.5 1893,1146.9 1892,1145.4 1891,1143.8 1890,1142.3 1889,1140.7 1888,1139.2 1887,1137.6 1886,1141.6 1885,1140.1 1884,1135.8 1883,1134.3 1882,1132.7 1881,1131.1 1880,1126.7 1879,1125.1 1878,1123.5 1877,1121.8 1876,1121.3 1875,1119.6 1874,1117.9 1873,1116.3 1872,1114.6 1871,1112.9 1870,1112.7 1869,1111.1 1868,1113.1 1867,1111.5 1866,1109.7 1865,1108.0 1864,1106.2 1863,1100.3 1862,1098.4 1861,1094.7 1860,1092.6 1859,1090.5 1858,1088.3 1857,1085.9 1856,1083.4 1855,1084.6 1854,1082.0 1853,1079.3 1852,1076.5 1851,1072.3 1850,1069.5 1849,1064.3 1848,1061.6 1847,1058.9 1846,1056.3 1845,1054.7 1844,1052.1 1843,1047.6 1842,1045.0 1841,1042.4 1840,1039.8 1839,1037.3 1838,1034.8 1837,1032.6 1836,1030.3 1835,1028.0 1834,1025.9 1833,1025.4 1832,1023.4 1831,1021.5 1830,1019.6 1829,1017.9 1828,1014.3 1827,1012.6 1826,1012.1 1825,1010.5 1824,1008.9 1823,1007.3 1822,1006.7 1821,1005.2 1820,1003.7 1819,1002.3 1818,1000.8 1817,1002.0 1816,1000.6 1815,999.3 1814,998.0 1813,996.8 1812,990.6 1811,989.3 1810,995.2 1809,994.0 1808,992.8 1807,991.6 1806,990.5 1805,983.5 1804,982.3 1803,979.4 1802,978.2 1801,976.9 1800,975.5 1799,974.2 1798,975.9 1797,974.5 1796,973.1 1795,969.6 1794,968.2 1793,966.7 1792,965.3 1791,963.9 1790,962.5 1789,964.0 1788,962.6 1787,961.3 1786,960.1 1785,958.9 1784,955.1 1783,954.2 1782,953.5 1781,952.6 1780,951.8 1779,958.4 1778,957.7 1777,957.0 1776,955.3 1775,954.6 1774,953.9 1773,953.2 1772,952.5 1771,951.8 1770,943.4 1769,942.7 1768,941.9 1767,942.9 1766,942.1 1765,941.3 1764,939.0 1763,938.2 1762,937.4 1761,936.6 1760,935.8 1759,934.9 1758,934.2 1757,933.3 1756,932.2 1755,931.2 1754,930.1 1753,936.4 1752,935.3 1751,931.5 1750,930.1 1749,928.6 1748,926.9 1747,925.2 1746,923.5 1745,917.6 1744,915.7 1743,920.8 1742,918.9 1741,917.0 1740,915.1 1739,913.3 1738,912.1 1737,910.3 1736,908.6 1735,906.8 1734,905.1 1733,896.6 1732,894.8 1731,892.9 1730,890.9 1729,888.8 1728,886.7 1727,885.2 1726,882.9 1725,880.4 1724,877.8 1723,875.2 1722,872.5 1721,870.6 1720,867.7 1719,859.5 1718,856.5 1717,853.3 1716,854.4 1715,851.1 1714,847.7 1713,844.2 1712,840.5 1711,836.7 1710,827.4 1709,822.4 1708,816.9 1707,811.1 1706,805.3 1705,808.9 1704,804.1 1703,799.5 1702,795.0 1701,790.5 1700,786.2 1699,780.6 1698,776.0 1697,771.7 1696,760.9 1695,756.9 1694,752.0 1693,748.3 1692,744.7 1691,741.1 1690,737.7 1689,734.3 1688,741.1 1687,737.8 1686,734.7 1685,731.6 1684,718.6 1683,715.6 1682,716.8 1681,714.0 1680,711.2 1679,708.6 1678,706.1 1677,703.8 1676,695.5 1675,693.2 1674,691.0 1673,688.7 1672,686.5 1671,695.8 1670,693.5 1669,691.1 1668,676.9 1667,674.4 1666,671.8 1665,669.1 1664,680.7 1663,677.7 1662,674.6 1661,671.2 1660,667.7 1659,659.1 1658,655.3 1657,651.3 1656,647.2 1655,643.0 1654,638.7 1653,630.3 1652,625.9 1651,621.3 1650,616.7 1649,611.9 1648,606.9 1647,613.6 1646,608.4 1645,603.0 1644,579.7 1643,574.0 1642,572.4 1641,566.4 1640,560.1 1639,558.2 1638,551.4 1637,544.5 1636,537.4 1635,535.3 1634,528.0 1633,507.8 1632,500.5 1631,493.2 1630,486.0 1629,477.9 1628,470.7 1627,463.3 1626,455.9 1625,449.0 1624,448.6 1623,443.6 1622,433.7 1621,429.6 1620,424.8 1619,417.4 1618,405.5 1617,392.7 1616,384.0 1615,376.2 1614,370.3 1613,366.8 1612,364.3 1611,370.2 1610,368.4 1609,366.5 1608,364.8 1607,363.2 1606,361.6 1605,361.2 1604,359.6 1603,357.9 1602,356.1 1601,354.1 1600,349.8 1599,347.6 1598,345.4 1597,343.2 1596,341.0 1595,334.7 1594,332.7 1593,330.7 1592,328.9 1591,327.0 1590,325.0 1589,323.2 1588,321.1 1587,319.3 1586,317.4 1585,315.7 1584,314.0 1583,312.3 1582,316.4 1581,314.5 1580,312.5 1579,310.7 1578,310.9 1577,308.7 1576,306.4 1575,303.5 1574,300.1 1573,296.3 1572,292.4 1571,288.4 1570,284.7 1569,285.3 1568,282.5 1567,279.9 1566,277.3 1565,260.5 1564,257.7 1563,255.0 1562,253.6 1561,252.0 1560,251.2 1559,250.7 1558,250.4 1557,250.1 1556,263.6 1555,263.4 1554,263.2 1553,263.0 1552,262.8 1551,262.5 1550,253.4 1549,252.9 1548,252.4 1547,246.2 1546,245.2 1545,244.1 1544,259.8 1543,257.6 1542,255.1 1541,252.5 1540,235.4 1539,232.3 1538,229.3 1537,226.3 1536,226.6 1535,226.4 1534,228.0 1533,229.1 1532,230.2 1531,230.9 1530,247.1 1529,247.5 1528,247.7 1527,247.7 1526,232.3 1525,232.3 1524,232.3 1523,232.3 1522,232.3 1521,228.7 1520,228.7 1519,228.7 1518,228.7 1517,228.7 1516,228.7 1515,229.8 1514,229.8 1513,228.1 1512,228.0 1511,227.9 1510,244.9 1509,244.7 1508,229.4 1507,229.2 1506,228.9 1505,242.1 1504,241.8 1503,241.6 1502,241.3 1501,225.6 1500,225.3 1499,224.9 1498,236.1 1497,235.5 1496,222.6 1495,221.8 1494,220.9 1493,238.2 1492,237.3 1491,236.4 1490,235.6 1489,234.9 1488,223.8 1487,224.5 1486,225.4 1485,226.4 1484,227.4 1483,244.3 1482,245.6 1481,246.8 1480,232.8 1479,234.0 1478,235.2 1477,228.3 1476,229.7 1475,234.4 1474,236.0 1473,237.7 1472,239.4 1471,241.2 1470,242.9 1469,242.3 1468,244.0 1467,254.6 1466,256.2 1465,257.6 1464,259.1 1463,260.5 1462,256.9 1461,258.4 1460,259.8 1459,257.3 1458,258.7 1457,260.2 1456,261.8 1455,272.3 1454,273.9 1453,275.6 1452,277.4 1451,279.2 1450,275.4 1449,277.3 1448,279.3 1447,281.4 1446,283.7 1445,287.8 1444,290.6 1443,293.9 1442,297.5 1441,301.5 1440,320.2 1439,324.2 1438,328.0 1437,331.5 1436,334.5 1435,337.2 1434,325.2 1433,327.7 1432,330.0 1431,332.3 1430,334.4 1429,346.4 1428,348.4 1427,350.3 1426,352.3 1425,354.2 1424,356.2 1423,342.9 1422,345.1 1421,353.4 1420,356.1 1419,359.1 1418,356.4 1417,359.6 1416,362.9 1415,366.1 1414,371.2 1413,374.1 1412,376.7 1411,379.2 1410,385.4 1409,387.2 1408,388.8 1407,385.4 1406,386.6 1405,387.8 1404,388.9 1403,399.9 1402,401.0 1401,402.1 1400,393.1 1399,394.5 1398,396.1 1397,403.5 1396,405.3 1395,401.9 1394,403.9 1393,405.9 1392,421.1 1391,423.2 1390,425.4 1389,427.6 1388,415.5 1387,418.2 1386,421.0 1385,423.9 1384,426.8 1383,433.0 1382,435.8 1381,438.6 1380,441.2 1379,443.7 1378,460.0 1377,462.2 1376,464.3 1375,449.8 1374,451.7 1373,459.4 1372,461.1 1371,462.8 1370,464.4 1369,459.4 1368,461.0 1367,462.6 1366,464.2 1365,481.9 1364,483.7 1363,485.5 1362,490.8 1361,492.9 1360,495.1 1359,479.4 1358,482.5 1357,485.8 1356,489.3 1355,508.5 1354,511.8 1353,515.0 1352,517.9 1351,520.5 1350,506.9 1349,509.1 1348,528.3 1347,530.2 1346,532.0 1345,526.7 1344,528.4 1343,530.1 1342,531.7 1341,533.4 1340,526.2 1339,527.9 1338,529.7 1337,531.0 1336,532.8 1335,534.6 1334,536.4 1333,537.3 1332,539.1 1331,540.9 1330,542.7 1329,544.5 1328,550.8 1327,552.7 1326,554.6 1325,559.3 1324,561.3 1323,563.0 1322,564.7 1321,559.8 1320,561.5 1319,563.1 1318,564.5 1317,565.9 1316,579.0 1315,580.3 1314,581.6 1313,582.9 1312,582.4 1311,583.6 1310,584.6 1309,579.4 1308,580.3 1307,581.0 1306,581.4 1305,581.8 1304,584.7 1303,584.7 1302,584.6 1301,592.6 1300,592.5 1299,592.2 1298,591.8 1297,591.2 1296,590.5 1295,575.0 1294,574.0 1293,572.9 1292,571.8 1291,576.1 1290,575.2 1289,574.7 1288,574.5 1287,574.2 1286,574.0 1285,579.8 1284,579.7 1283,571.1 1282,571.0 1281,578.5 1280,579.1 1279,580.3 1278,581.7 1277,583.1 1276,575.4 1275,576.6 1274,577.8 1273,578.9 1272,579.8 1271,580.7 1270,581.2 1269,582.1 1268,583.0 1267,583.8 1266,584.6 1265,585.4 1264,592.1 1263,592.7 1262,593.4 1261,593.9 1260,594.4 1259,605.3 1258,605.6 1257,606.0 1256,605.7 1255,605.5 1254,605.2 1253,601.0 1252,600.8 1251,600.6 1250,600.4 1249,593.2 1248,593.2 1247,593.2 1246,593.3 1245,593.5 1244,593.6 1243,594.1 1242,594.4 1241,594.6 1240,594.9 1239,595.2 1238,594.0 1237,594.5 1236,595.1 1235,594.1 1234,595.1 1233,596.1 1232,597.2 1231,598.3 1230,599.4 1229,602.7 1228,603.9 1227,605.0 1226,606.1 1225,607.2 1224,608.3 1223,610.6 1222,611.9 1221,613.1 1220,614.5 1219,615.9 1218,617.4 1217,615.9 1216,617.7 1215,619.8 1214,622.0 1213,624.5 1212,626.8 1211,629.6 1210,632.5 1209,635.3 1208,638.0 1207,641.7 1206,644.4 1205,647.2 1204,649.9 1203,654.3 1202,657.2 1201,660.0 1200,662.8 1199,665.3 1198,667.8 1197,668.6 1196,670.8 1195,673.0 1194,685.3 1193,687.6 1192,689.9 1191,692.2 1190,694.4 1189,696.6 1188,687.8 1187,689.8 1186,691.8 1185,693.6 1184,695.3 1183,696.4 1182,697.8 1181,699.0 1180,700.2 1179,701.2 1178,702.0 1177,715.4 1176,716.1 1175,716.7 1174,717.4 1173,717.9 1172,718.4 1171,709.8 1170,710.2 1169,710.7 1168,711.2 1167,709.2 1166,709.8 1165,710.4 1164,711.1 1163,711.9 1162,712.9 1161,713.5 1160,715.0 1159,716.6 1158,718.4 1157,720.1 1156,722.1 1155,724.0 1154,730.9 1153,732.7 1152,734.3 1151,735.9 1150,737.3 1149,738.5 1148,734.0 1147,735.1 1146,736.0 1145,736.8 1144,737.5 1143,738.3 1142,740.9 1141,741.5 1140,742.1 1139,742.7 1138,743.3 1137,743.9 1136,743.6 1135,744.2 1134,744.7 1133,745.3 1132,751.4 1131,752.1 1130,752.8 1129,753.5 1128,754.2 1127,754.8 1126,754.7 1125,755.4 1124,756.1 1123,759.3 1122,760.1 1121,760.8 1120,761.6 1119,762.4 1118,769.2 1117,770.1 1116,771.0 1115,771.9 1114,773.0 1113,774.1 1112,774.4 1111,775.7 1110,777.0 1109,778.4 1108,779.9 1107,781.3 1106,779.4 1105,781.0 1104,787.3 1103,788.9 1102,790.5 1101,792.2 1100,793.8 1099,780.5 1098,782.2 1097,784.0 1096,785.9 1095,793.9 1094,795.9 1093,797.9 1092,799.9 1091,802.0 1090,804.0 1089,804.9 1088,807.0 1087,809.0 1086,811.1 1085,813.1 1084,810.8 1083,812.8 1082,814.8 1081,816.8 1080,823.5 1079,825.4 1078,827.4 1077,826.9 1076,828.8 1075,830.8 1074,832.8 1073,834.8 1072,836.8 1071,850.3 1070,852.3 1069,854.4 1068,846.9 1067,849.1 1066,851.4 1065,850.2 1064,852.6 1063,862.0 1062,864.4 1061,866.8 1060,869.2 1059,871.7 1058,874.2 1057,870.3 1056,872.8 1055,875.3 1054,877.8 1053,880.3 1052,882.7 1051,893.4 1050,895.8 1049,898.3 1048,900.7 1047,903.1 1046,897.8 1045,900.2 1044,902.5 1043,904.8 1042,911.3 1041,913.6 1040,916.0 1039,918.4 1038,916.0 1037,918.7 1036,921.4 1035,925.0 1034,927.5 1033,929.5 1032,931.8 1031,933.9 1030,936.0 1029,937.4 1028,939.2 1027,941.1 1026,943.0 1025,945.0 1024,947.0 1023,949.3 1022,952.9 1021,955.3 1020,957.7 1019,959.5 1018,961.8 1017,964.0 1016,969.8 1015,971.7 1014,973.5 1013,975.3 1012,977.1 1011,978.8 1010,976.5 1009,978.2 1008,980.1 1007,982.0 1006,984.0 1005,993.6 1004,995.6 1003,991.0 1002,993.0 1001,994.8 1000,996.6 999,998.2 998,999.7 997,1007.7 996,1009.1 995,1010.4 994,1011.7 993,1012.9 992,1014.1 991,1013.2 990,1014.4 989,1015.6 988,1012.1 987,1013.4 986,1016.6 985,1017.9 984,1016.9 983,1018.2 982,1019.6 981,1020.9 980,1022.9 979,1024.3 978,1025.3 977,1026.7 976,1028.1 975,1029.6 974,1032.3 973,1033.8 972,1035.3 971,1036.8 970,1038.4 969,1046.9 968,1048.5 967,1050.0 966,1051.6 965,1053.3 964,1054.9 963,1055.8 962,1057.5 961,1059.2 960,1061.0 959,1062.7 958,1061.6 957,1063.4 956,1065.2 955,1067.1 954,1069.3 953,1071.3 952,1070.7 951,1072.7 950,1074.7 949,1078.4 948,1080.5 947,1082.8 946,1085.0 945,1087.2 944,1089.6 943,1091.8 942,1093.9 941,1096.1 940,1098.2 939,1096.6 938,1098.9 937,1101.5 936,1104.4 935,1107.7 934,1111.4 933,1120.9 932,1125.2 931,1123.8 930,1127.8 929,1132.5 928,1136.5 927,1144.2 926,1148.3 925,1152.3 924,1156.4 923,1156.6 922,1160.8 921,1165.9 920,1170.0 919,1174.1 918,1178.0 917,1182.0 916,1185.9 915,1196.5 914,1200.2 913,1203.7 912,1207.2 911,1210.5 910,1213.9 909,1213.7 908,1217.1 907,1220.8 906,1224.7 905,1228.8 904,1232.9 903,1232.5 902,1235.9 901,1238.8 900,1241.4 899,1243.9 898,1246.3 897,1250.2 896,1252.3 895,1259.8 894,1262.0 893,1264.2 892,1266.4 891,1261.7 890,1264.0 889,1266.2 888,1268.4 887,1276.4 886,1278.4 885,1280.4 884,1282.4 883,1281.1 882,1283.0 881,1284.9 880,1286.8 879,1288.6 878,1288.3 877,1290.0 876,1291.7 875,1293.4 874,1295.0 873,1296.6 872,1302.0 871,1303.5 870,1304.9 869,1306.3 868,1307.7 867,1309.1 866,1310.5 865,1311.9 864,1313.3 863,1314.6 862,1316.0 861,1314.5 860,1315.9 859,1317.3 858,1322.4 857,1323.8 856,1325.1 855,1326.5 854,1327.8 853,1325.7 852,1327.1 851,1330.3 850,1331.6 849,1332.9 848,1333.0 847,1334.3 846,1335.6 845,1336.9 844,1338.1 843,1339.4 842,1340.7 841,1344.8 840,1346.0 839,1347.3 838,1348.5 837,1349.8 836,1348.5 835,1349.8 834,1351.0 833,1352.3 832,1353.5 831,1354.7 830,1357.2 829,1358.4 828,1359.5 827,1358.9 826,1360.0 825,1361.1 824,1362.4 823,1363.5 822,1364.6 821,1365.6 820,1366.6 819,1369.3 818,1370.3 817,1371.2 816,1372.1 815,1373.1 814,1372.4 813,1373.3 812,1374.2 811,1377.0 810,1377.8 809,1376.8 808,1377.6 807,1378.4 806,1379.3 805,1379.9 804,1380.7 803,1381.5 802,1382.3 801,1383.1 800,1383.8 799,1386.4 798,1387.1 797,1386.2 796,1386.9 795,1389.5 794,1390.2 793,1390.9 792,1391.6 791,1392.2 790,1392.9 789,1393.3 788,1393.9 787,1394.8 786,1395.4 785,1396.0 784,1395.0 783,1395.6 782,1396.2 781,1396.8 780,1398.8 779,1399.4 778,1400.0 777,1399.4 776,1399.9 775,1400.5 774,1401.0 773,1401.5 772,1402.8 771,1403.3 770,1403.8 769,1404.3 768,1404.8 767,1405.3 766,1405.8 765,1406.3 764,1406.7 763,1407.2 762,1407.7 761,1407.3 760,1407.7 759,1408.2 758,1408.6 757,1409.0 756,1409.5 755,1409.9 754,1410.4 753,1412.0 752,1412.5 751,1411.8 750,1412.2 749,1412.6 748,1413.1 747,1413.5 746,1414.9 745,1415.3 744,1416.0 743,1416.4 742,1416.7 741,1417.1 740,1417.5 739,1417.9 738,1418.1 737,1418.5 736,1418.4 735,1418.9 734,1419.3 733,1420.0 732,1420.4 731,1420.6 730,1421.0 729,1421.5 728,1421.9 727,1422.3 726,1422.7 725,1423.1 724,1423.6 723,1424.0 722,1424.5 721,1424.9 720,1425.3 719,1425.7 718,1426.1 717,1426.6 716,1426.6 715,1427.0 714,1427.6 713,1427.9 712,1428.3 711,1428.7 710,1429.1 709,1429.4 708,1429.8 707,1430.2 706,1430.6 705,1431.0 704,1431.3 703,1431.7 702,1432.0 701,1432.4 700,1433.2 699,1433.5 698,1433.9 697,1434.2 696,1434.5 695,1434.5 694,1434.8 693,1435.1 692,1435.5 691,1436.1 690,1436.4 689,1436.5 688,1436.9 687,1437.2 686,1437.6 685,1437.9 684,1438.5 683,1438.9 682,1439.2 681,1439.5 680,1439.8 679,1440.1 678,1440.5 677,1440.8 676,1441.2 675,1441.5 674,1441.7 673,1442.0 672,1442.4 671,1442.7 670,1443.0 669,1443.3 668,1443.7 667,1444.0 666,1444.2 665,1444.5 664,1444.7 663,1444.5 662,1444.7 661,1444.8 660,1444.9 659,1445.0 658,1445.1 657,1445.1 656,1445.2 655,1445.2 654,1445.3 653,1445.4 652,1445.4 651,1445.6 650,1445.6 649,1445.7 648,1445.7 647,1445.8 646,1445.9 645,1445.9 644,1445.8 643,1445.8 642,1445.8 641,1445.9 640,1445.9 639,1445.9 638,1446.2 637,1446.2 636,1446.0 635,1446.0 634,1446.1 633,1446.1 632,1446.1 631,1446.1 630,1446.1 629,1446.2 628,1446.2 627,1446.3 626,1446.3 625,1446.4 624,1446.4 623,1446.4 622,1446.4 621,1446.3 620,1446.3 619,1446.3 618,1446.3 617,1446.4 616,1446.4 615,1446.6 614,1446.6 613,1446.4 612,1446.4 611,1446.5 610,1446.5 609,1446.5 608,1446.5 607,1446.5 606,1446.5 605,1446.6 604,1446.6 603,1446.6 602,1446.7 601,1446.7 600,1446.7 599,1446.6 598,1446.6 597,1446.6 596,1446.6 595,1446.6 594,1446.6 593,1446.7 592,1446.7 591,1446.7 590,1446.7 589,1446.7 588,1446.7 587,1446.7 586,1446.7 585,1446.7 584,1446.7 583,1446.7 582,1446.7 581,1446.7 580,1446.7 579,1446.8 578,1446.8 577,1446.8 576,1446.8 575,1446.8 574,1446.8 573,1446.8 572,1446.8 571,1446.8 570,1446.8 569,1446.8 568,1446.8 567,1446.8 566,1446.8 565,1446.8"/></g>
<polyline points="565.0,1442.0 567.0,1442.0 569.0,1442.0 571.0,1442.0 573.0,1442.0 575.0,1442.0 577.0,1442.0 579.0,1442.0 581.0,1441.9 583.0,1441.9 585.0,1441.9 587.0,1441.9 589.0,1441.9 591.0,1441.9 593.0,1441.8 595.0,1441.8 597.0,1441.8 599.0,1441.8 601.0,1441.8 603.0,1441.7 605.0,1441.7 607.0,1441.7 609.0,1441.7 611.0,1441.6 613.0,1441.6 615.0,1441.6 617.0,1441.5 619.0,1441.5 621.0,1441.5 623.0,1441.5 625.0,1441.4 627.0,1441.4 629.0,1441.3 631.0,1441.3 633.0,1441.2 635.0,1441.2 637.0,1441.1 639.0,1441.1 641.0,1441.0 643.0,1440.9 645.0,1440.9 647.0,1440.8 649.0,1440.7 651.0,1440.6 653.0,1440.5 655.0,1440.3 657.0,1440.2 659.0,1440.1 661.0,1439.9 663.0,1439.6 665.0,1439.2 667.0,1438.6 669.0,1438.0 671.0,1437.4 673.0,1436.7 675.0,1436.1 677.0,1435.4 679.0,1434.8 681.0,1434.2 683.0,1433.5 685.0,1432.8 687.0,1432.1 689.0,1431.4 691.0,1430.6 693.0,1429.9 695.0,1429.2 697.0,1428.5 699.0,1427.8 701.0,1427.1 703.0,1426.3 705.0,1425.5 707.0,1424.8 709.0,1424.0 711.0,1423.2 713.0,1422.3 715.0,1421.5 717.0,1420.7 719.0,1419.8 721.0,1418.9 723.0,1418.0 725.0,1417.1 727.0,1416.2 729.0,1415.4 731.0,1414.5 733.0,1413.7 735.0,1412.8 737.0,1412.0 739.0,1411.2 741.0,1410.4 743.0,1409.5 745.0,1408.7 747.0,1407.8 749.0,1406.9 751.0,1406.1 753.0,1405.2 755.0,1404.3 757.0,1403.4 759.0,1402.5 761.0,1401.5 763.0,1400.6 765.0,1399.6 767.0,1398.7 769.0,1397.6 771.0,1396.6 773.0,1395.5 775.0,1394.4 777.0,1393.2 779.0,1392.0 781.0,1390.7 783.0,1389.4 785.0,1388.1 787.0,1386.8 789.0,1385.4 791.0,1383.9 793.0,1382.5 795.0,1381.0 797.0,1379.5 799.0,1377.9 801.0,1376.3 803.0,1374.7 805.0,1373.0 807.0,1371.2 809.0,1369.5 811.0,1367.6 813.0,1365.7 815.0,1363.8 817.0,1361.8 819.0,1359.7 821.0,1357.6 823.0,1355.3 825.0,1353.0 827.0,1350.6 829.0,1348.1 831.0,1345.6 833.0,1343.1 835.0,1340.5 837.0,1337.9 839.0,1335.3 841.0,1332.7 843.0,1330.1 845.0,1327.4 847.0,1324.7 849.0,1322.0 851.0,1319.2 853.0,1316.4 855.0,1313.5 857.0,1310.6 859.0,1307.7 861.0,1304.7 863.0,1301.7 865.0,1298.6 867.0,1295.5 869.0,1292.3 871.0,1289.0 873.0,1285.6 875.0,1282.0 877.0,1278.2 879.0,1274.2 881.0,1270.0 883.0,1265.7 885.0,1261.2 887.0,1256.7 889.0,1252.2 891.0,1247.8 893.0,1243.5 895.0,1238.9 897.0,1233.4 899.0,1226.1 901.0,1217.8 903.0,1210.2 905.0,1203.3 907.0,1196.6 909.0,1189.5 911.0,1181.9 913.0,1174.0 915.0,1166.0 917.0,1157.6 919.0,1149.2 921.0,1141.0 923.0,1133.0 925.0,1125.0 927.0,1116.8 929.0,1108.4 931.0,1101.3 933.0,1095.7 935.0,1090.9 937.0,1086.5 939.0,1082.2 941.0,1077.8 943.0,1073.4 945.0,1069.2 947.0,1065.0 949.0,1061.0 951.0,1057.1 953.0,1053.3 955.0,1049.7 957.0,1046.1 959.0,1042.7 961.0,1039.3 963.0,1036.1 965.0,1032.9 967.0,1029.7 969.0,1026.7 971.0,1023.7 973.0,1020.8 975.0,1018.0 977.0,1015.2 979.0,1012.4 981.0,1009.7 983.0,1007.0 985.0,1004.4 987.0,1001.9 989.0,999.4 991.0,996.8 993.0,994.1 995.0,991.1 997.0,987.7 999.0,983.9 1001.0,979.9 1003.0,975.9 1005.0,972.2 1007.0,968.6 1009.0,965.0 1011.0,961.4 1013.0,957.4 1015.0,952.9 1017.0,948.0 1019.0,943.2 1021.0,938.9 1023.0,935.0 1025.0,931.3 1027.0,927.3 1029.0,922.9 1031.0,917.7 1033.0,912.3 1035.0,907.0 1037.0,902.2 1039.0,897.5 1041.0,892.8 1043.0,887.9 1045.0,882.9 1047.0,877.9 1049.0,872.9 1051.0,867.9 1053.0,862.8 1055.0,857.7 1057.0,852.7 1059.0,847.8 1061.0,842.9 1063.0,838.3 1065.0,833.8 1067.0,829.5 1069.0,825.3 1071.0,821.2 1073.0,817.2 1075.0,813.3 1077.0,809.3 1079.0,805.3 1081.0,801.3 1083.0,797.1 1085.0,792.9 1087.0,788.6 1089.0,784.5 1091.0,780.4 1093.0,776.6 1095.0,773.0 1097.0,769.7 1099.0,766.4 1101.0,763.3 1103.0,760.3 1105.0,757.4 1107.0,754.7 1109.0,752.2 1111.0,750.0 1113.0,748.0 1115.0,746.3 1117.0,744.7 1119.0,743.2 1121.0,741.8 1123.0,740.4 1125.0,739.0 1127.0,737.7 1129.0,736.3 1131.0,735.1 1133.0,733.9 1135.0,732.8 1137.0,731.6 1139.0,730.3 1141.0,729.0 1143.0,727.4 1145.0,725.5 1147.0,722.9 1149.0,719.7 1151.0,716.2 1153.0,712.5 1155.0,709.0 1157.0,705.9 1159.0,703.4 1161.0,701.6 1163.0,700.2 1165.0,699.1 1167.0,698.2 1169.0,697.2 1171.0,696.3 1173.0,695.1 1175.0,693.7 1177.0,691.8 1179.0,689.2 1181.0,686.0 1183.0,682.2 1185.0,678.1 1187.0,673.7 1189.0,669.1 1191.0,664.6 1193.0,660.1 1195.0,655.3 1197.0,650.1 1199.0,644.8 1201.0,639.5 1203.0,634.4 1205.0,629.1 1207.0,623.7 1209.0,618.5 1211.0,613.9 1213.0,610.0 1215.0,606.9 1217.0,604.1 1219.0,601.6 1221.0,599.3 1223.0,597.1 1225.0,594.9 1227.0,592.6 1229.0,590.4 1231.0,588.3 1233.0,586.5 1235.0,585.0 1237.0,583.8 1239.0,582.8 1241.0,581.8 1243.0,581.0 1245.0,580.3 1247.0,579.7 1249.0,579.3 1251.0,578.9 1253.0,578.6 1255.0,578.2 1257.0,577.7 1259.0,576.9 1261.0,575.8 1263.0,574.4 1265.0,572.7 1267.0,571.0 1269.0,569.3 1271.0,567.2 1273.0,564.6 1275.0,561.9 1277.0,559.6 1279.0,558.2 1281.0,558.0 1283.0,558.2 1285.0,558.5 1287.0,558.9 1289.0,559.4 1291.0,560.0 1293.0,561.2 1295.0,563.1 1297.0,565.3 1299.0,567.3 1301.0,568.5 1303.0,568.5 1305.0,567.2 1307.0,564.9 1309.0,562.1 1311.0,559.0 1313.0,556.0 1315.0,553.0 1317.0,549.5 1319.0,545.8 1321.0,542.0 1323.0,538.3 1325.0,534.7 1327.0,531.2 1329.0,527.6 1331.0,524.1 1333.0,520.5 1335.0,517.0 1337.0,513.6 1339.0,510.4 1341.0,507.2 1343.0,503.7 1345.0,499.9 1347.0,495.2 1349.0,489.2 1351.0,482.3 1353.0,475.5 1355.0,469.6 1357.0,465.0 1359.0,460.9 1361.0,457.3 1363.0,454.0 1365.0,450.8 1367.0,447.6 1369.0,444.2 1371.0,440.6 1373.0,436.5 1375.0,431.8 1377.0,426.5 1379.0,420.8 1381.0,415.0 1383.0,409.5 1385.0,404.6 1387.0,400.1 1389.0,395.9 1391.0,391.9 1393.0,388.3 1395.0,385.0 1397.0,382.3 1399.0,380.0 1401.0,377.8 1403.0,375.4 1405.0,372.4 1407.0,368.3 1409.0,362.8 1411.0,356.5 1413.0,350.0 1415.0,343.8 1417.0,338.5 1419.0,334.0 1421.0,329.8 1423.0,325.8 1425.0,321.8 1427.0,317.6 1429.0,313.0 1431.0,307.7 1433.0,301.0 1435.0,293.1 1437.0,285.1 1439.0,278.0 1441.0,272.7 1443.0,268.0 1445.0,263.8 1447.0,260.0 1449.0,256.3 1451.0,252.9 1453.0,249.8 1455.0,246.8 1457.0,243.9 1459.0,241.0 1461.0,238.0 1463.0,234.9 1465.0,231.6 1467.0,228.2 1469.0,224.8 1471.0,221.5 1473.0,218.6 1475.0,216.0 1477.0,213.7 1479.0,211.4 1481.0,209.1 1483.0,207.1 1485.0,205.6 1487.0,204.6 1489.0,204.4 1491.0,205.2 1493.0,206.6 1495.0,208.4 1497.0,210.3 1499.0,212.1 1501.0,213.4 1503.0,214.1 1505.0,214.8 1507.0,215.4 1509.0,215.9 1511.0,216.3 1513.0,216.6 1515.0,216.7 1517.0,216.7 1519.0,216.7 1521.0,216.7 1523.0,216.7 1525.0,216.7 1527.0,216.7 1529.0,216.3 1531.0,213.7 1533.0,209.9 1535.0,206.6 1537.0,205.3 1539.0,207.1 1541.0,211.4 1543.0,217.1 1545.0,223.3 1547.0,228.9 1549.0,232.8 1551.0,234.4 1553.0,235.2 1555.0,235.8 1557.0,236.3 1559.0,236.8 1561.0,237.5 1563.0,238.5 1565.0,240.7 1567.0,244.7 1569.0,250.1 1571.0,256.2 1573.0,262.3 1575.0,269.4 1577.0,277.9 1579.0,286.3 1581.0,293.4 1583.0,298.2 1585.0,302.2 1587.0,305.6 1589.0,308.9 1591.0,312.4 1593.0,315.9 1595.0,319.4 1597.0,323.0 1599.0,326.7 1601.0,330.5 1603.0,334.3 1605.0,338.0 1607.0,341.2 1609.0,343.8 1611.0,346.3 1613.0,349.0 1615.0,352.3 1617.0,356.7 1619.0,362.8 1621.0,376.6 1623.0,398.3 1625.0,416.6 1627.0,425.6 1629.0,434.8 1631.0,448.0 1633.0,462.8 1635.0,477.1 1637.0,491.6 1639.0,506.2 1641.0,520.7 1643.0,534.7 1645.0,548.1 1647.0,560.4 1649.0,571.9 1651.0,582.8 1653.0,593.2 1655.0,602.9 1657.0,612.1 1659.0,621.0 1661.0,629.5 1663.0,637.6 1665.0,645.1 1667.0,652.0 1669.0,658.1 1671.0,663.7 1673.0,668.7 1675.0,673.5 1677.0,678.0 1679.0,682.5 1681.0,687.1 1683.0,691.9 1685.0,697.1 1687.0,702.7 1689.0,708.6 1691.0,714.7 1693.0,721.1 1695.0,727.8 1697.0,734.7 1699.0,742.1 1701.0,749.9 1703.0,758.4 1705.0,767.6 1707.0,777.3 1709.0,787.4 1711.0,798.4 1713.0,810.4 1715.0,821.3 1717.0,829.9 1719.0,837.9 1721.0,845.4 1723.0,852.3 1725.0,858.7 1727.0,864.6 1729.0,870.0 1731.0,875.0 1733.0,879.5 1735.0,883.6 1737.0,887.4 1739.0,891.1 1741.0,894.8 1743.0,898.5 1745.0,902.5 1747.0,906.4 1749.0,910.3 1751.0,914.0 1753.0,917.4 1755.0,920.3 1757.0,922.7 1759.0,924.9 1761.0,926.7 1763.0,928.5 1765.0,930.1 1767.0,931.6 1769.0,933.2 1771.0,934.8 1773.0,936.3 1775.0,937.6 1777.0,939.0 1779.0,940.3 1781.0,941.7 1783.0,943.1 1785.0,944.8 1787.0,946.6 1789.0,948.7 1791.0,951.1 1793.0,953.7 1795.0,956.5 1797.0,959.4 1799.0,962.3 1801.0,965.3 1803.0,968.1 1805.0,970.9 1807.0,973.5 1809.0,976.1 1811.0,978.7 1813.0,981.2 1815.0,983.8 1817.0,986.4 1819.0,989.0 1821.0,991.8 1823.0,994.7 1825.0,997.8 1827.0,1000.9 1829.0,1004.2 1831.0,1007.6 1833.0,1011.1 1835.0,1014.8 1837.0,1018.7 1839.0,1022.8 1841.0,1027.4 1843.0,1032.2 1845.0,1037.3 1847.0,1042.5 1849.0,1047.8 1851.0,1053.0 1853.0,1058.2 1855.0,1063.8 1857.0,1069.4 1859.0,1074.9 1861.0,1080.1 1863.0,1084.7 1865.0,1088.9 1867.0,1092.9 1869.0,1096.6 1871.0,1100.2 1873.0,1103.6 1875.0,1107.0 1877.0,1110.4 1879.0,1113.7 1881.0,1117.1 1883.0,1120.4 1885.0,1123.6 1887.0,1126.8 1889.0,1130.0 1891.0,1133.1 1893.0,1136.2 1895.0,1139.3 1897.0,1142.5 1899.0,1145.6 1901.0,1148.6 1903.0,1151.5 1905.0,1154.4 1907.0,1157.4 1909.0,1160.3 1911.0,1163.4 1913.0,1166.5 1915.0,1169.9 1917.0,1173.4 1919.0,1177.3 1921.0,1181.6 1923.0,1186.1 1925.0,1190.7 1927.0,1195.1 1929.0,1199.2 1931.0,1202.8 1933.0,1206.3 1935.0,1209.7 1937.0,1213.1 1939.0,1216.4 1941.0,1219.5 1943.0,1222.5 1945.0,1225.2 1947.0,1227.6 1949.0,1229.7 1951.0,1231.3 1953.0,1232.5 1955.0,1233.6 1957.0,1234.5 1959.0,1235.4 1961.0,1236.1 1963.0,1236.8 1965.0,1237.3 1967.0,1237.8 1969.0,1238.2 1971.0,1238.5 1973.0,1238.8 1975.0,1239.0 1977.0,1239.2 1979.0,1239.5 1981.0,1239.8 1983.0,1240.1 1985.0,1240.5 1987.0,1240.9 1989.0,1241.3 1991.0,1241.8 1993.0,1242.3 1995.0,1242.8 1997.0,1243.4 1999.0,1244.0 2001.0,1244.6 2003.0,1245.2 2005.0,1245.9 2007.0,1246.6 2009.0,1247.3 2011.0,1248.0 2013.0,1248.7 2015.0,1249.6 2017.0,1250.4 2019.0,1251.3 2021.0,1252.3 2023.0,1253.4 2025.0,1254.5 2027.0,1255.6 2029.0,1256.8 2031.0,1258.0 2033.0,1259.2 2035.0,1260.5 2037.0,1261.9 2039.0,1263.3 2041.0,1264.8 2043.0,1266.4 2045.0,1268.0 2047.0,1269.8 2049.0,1271.5 2051.0,1273.4 2053.0,1275.3 2055.0,1277.3 2057.0,1279.3 2059.0,1281.5 2061.0,1283.9 2063.0,1286.4 2065.0,1289.0 2067.0,1291.7 2069.0,1294.5 2071.0,1297.3 2073.0,1300.0 2075.0,1302.7 2077.0,1305.4 2079.0,1308.1 2081.0,1311.0 2083.0,1313.9 2085.0,1316.9 2087.0,1319.8 2089.0,1322.5 2091.0,1325.1 2093.0,1327.3 2095.0,1329.3 2097.0,1330.8 2099.0,1332.1 2101.0,1333.2 2103.0,1334.1 2105.0,1335.0 2107.0,1335.9 2109.0,1336.7 2111.0,1337.6 2113.0,1338.5 2115.0,1339.6 2117.0,1340.8 2119.0,1342.3 2121.0,1343.8 2123.0,1345.5 2125.0,1347.2 2127.0,1349.0 2129.0,1350.7 2131.0,1352.4 2133.0,1354.0 2135.0,1355.5 2137.0,1356.9 2139.0,1358.1 2141.0,1359.2 2143.0,1360.4 2145.0,1361.5 2147.0,1362.6 2149.0,1363.7 2151.0,1364.9 2153.0,1366.1 2155.0,1367.5 2157.0,1368.9 2159.0,1370.4 2161.0,1371.9 2163.0,1373.5 2165.0,1375.1 2167.0,1376.7 2169.0,1378.2 2171.0,1379.8 2173.0,1381.4 2175.0,1382.9 2177.0,1384.3 2179.0,1385.7 2181.0,1387.0 2183.0,1388.3 2185.0,1389.6 2187.0,1390.8 2189.0,1392.0 2191.0,1393.2 2193.0,1394.4 2195.0,1395.6 2197.0,1396.7 2199.0,1397.9 2201.0,1399.0 2203.0,1400.2 2205.0,1401.3 2207.0,1402.4 2209.0,1403.6 2211.0,1404.8 2213.0,1406.0 2215.0,1407.2 2217.0,1408.3 2219.0,1409.5 2221.0,1410.6 2223.0,1411.7 2225.0,1412.8 2227.0,1413.8 2229.0,1414.8 2231.0,1415.7 2233.0,1416.6 2235.0,1417.4 2237.0,1418.2 2239.0,1419.0 2241.0,1419.8 2243.0,1420.6 2245.0,1421.3 2247.0,1422.0 2249.0,1422.7 2251.0,1423.3 2253.0,1424.0 2255.0,1424.6 2257.0,1425.1 2259.0,1425.6 2261.0,1426.1 2263.0,1426.6 2265.0,1427.0 2267.0,1427.5 2269.0,1427.9 2271.0,1428.3 2273.0,1428.7 2275.0,1429.1 2277.0,1429.4 2279.0,1429.8 2281.0,1430.1 2283.0,1430.5 2285.0,1430.8 2287.0,1431.2 2289.0,1431.5 2291.0,1431.8 2293.0,1432.1 2295.0,1432.4 2297.0,1432.7 2299.0,1433.0 2301.0,1433.3 2303.0,1433.6 2305.0,1433.9 2307.0,1434.1 2309.0,1434.4 2311.0,1434.7 2313.0,1434.9 2315.0,1435.1 2317.0,1435.3 2319.0,1435.6 2321.0,1435.8 2323.0,1436.0 2325.0,1436.2 2327.0,1436.4 2329.0,1436.6 2331.0,1436.7 2333.0,1436.9 2335.0,1437.1 2337.0,1437.3 2339.0,1437.5 2341.0,1437.7 2343.0,1437.9 2345.0,1438.1 2347.0,1438.3 2349.0,1438.5 2351.0,1438.7 2353.0,1438.8 2355.0,1439.0 2357.0,1439.2 2359.0,1439.4 2361.0,1439.6 2363.0,1439.7 2365.0,1439.9 2366.0,1440.0" fill="none" stroke="#000" stroke-width="9.5" stroke-linejoin="round" stroke-linecap="butt"/>
<g fill="#fe0000" stroke="none"><polygon points="565,1441.2 566,1441.2 567,1441.2 568,1441.2 569,1441.1 570,1441.1 571,1440.3 572,1440.2 573,1440.2 574,1440.7 575,1440.7 576,1440.7 577,1440.6 578,1440.4 579,1440.4 580,1441.1 581,1441.1 582,1441.1 583,1441.0 584,1441.0 585,1441.0 586,1440.9 587,1440.9 588,1440.6 589,1440.6 590,1440.5 591,1440.9 592,1440.9 593,1440.9 594,1440.9 595,1440.9 596,1440.3 597,1440.3 598,1440.3 599,1440.3 600,1440.3 601,1440.6 602,1440.6 603,1440.6 604,1440.6 605,1439.5 606,1439.4 607,1439.4 608,1440.2 609,1440.2 610,1440.2 611,1440.2 612,1440.2 613,1440.8 614,1440.8 615,1440.8 616,1440.7 617,1440.7 618,1440.7 619,1439.6 620,1439.6 621,1439.6 622,1439.6 623,1439.9 624,1439.9 625,1439.9 626,1439.9 627,1439.5 628,1439.5 629,1439.5 630,1439.5 631,1439.5 632,1439.5 633,1440.5 634,1440.5 635,1440.5 636,1440.8 637,1440.8 638,1440.8 639,1440.8 640,1440.8 641,1440.8 642,1440.8 643,1440.8 644,1440.8 645,1439.7 646,1439.7 647,1439.7 648,1439.7 649,1439.7 650,1439.7 651,1440.2 652,1440.2 653,1440.2 654,1440.2 655,1440.2 656,1440.2 657,1440.2 658,1440.6 659,1440.6 660,1440.6 661,1440.6 662,1440.6 663,1440.6 664,1440.3 665,1440.3 666,1440.3 667,1440.3 668,1439.7 669,1439.7 670,1439.7 671,1439.7 672,1439.6 673,1439.6 674,1439.6 675,1440.2 676,1440.2 677,1440.2 678,1440.1 679,1440.3 680,1440.2 681,1439.9 682,1439.8 683,1439.8 684,1439.7 685,1439.7 686,1439.7 687,1439.9 688,1439.9 689,1439.9 690,1439.8 691,1439.8 692,1440.1 693,1440.0 694,1440.0 695,1440.0 696,1440.0 697,1439.9 698,1439.2 699,1439.1 700,1438.6 701,1438.4 702,1438.2 703,1438.0 704,1438.0 705,1437.8 706,1437.5 707,1437.3 708,1436.6 709,1436.3 710,1436.0 711,1435.6 712,1436.2 713,1435.8 714,1435.4 715,1435.4 716,1435.0 717,1434.8 718,1434.4 719,1434.0 720,1433.7 721,1433.3 722,1432.9 723,1432.5 724,1432.0 725,1431.6 726,1431.2 727,1430.8 728,1429.8 729,1429.3 730,1429.6 731,1429.2 732,1427.3 733,1426.9 734,1427.6 735,1427.2 736,1426.8 737,1426.3 738,1425.9 739,1425.4 740,1425.0 741,1424.6 742,1424.1 743,1423.7 744,1421.5 745,1421.0 746,1420.5 747,1420.0 748,1419.5 749,1420.6 750,1420.1 751,1419.6 752,1419.1 753,1418.6 754,1418.1 755,1417.4 756,1416.9 757,1416.3 758,1415.8 759,1415.2 760,1413.0 761,1412.5 762,1414.3 763,1413.7 764,1413.1 765,1412.5 766,1411.3 767,1410.7 768,1410.8 769,1410.2 770,1409.5 771,1408.9 772,1408.3 773,1405.6 774,1405.0 775,1404.4 776,1403.7 777,1403.1 778,1403.1 779,1402.5 780,1401.8 781,1402.4 782,1401.7 783,1401.2 784,1400.5 785,1399.8 786,1399.1 787,1398.4 788,1397.7 789,1397.0 790,1396.3 791,1395.6 792,1394.9 793,1394.1 794,1393.4 795,1392.6 796,1391.5 797,1390.7 798,1389.9 799,1389.1 800,1388.4 801,1387.6 802,1386.7 803,1385.9 804,1385.0 805,1384.2 806,1383.2 807,1382.4 808,1381.5 809,1380.7 810,1379.8 811,1379.2 812,1378.3 813,1377.5 814,1376.6 815,1375.7 816,1374.8 817,1374.0 818,1373.1 819,1372.3 820,1371.0 821,1370.2 822,1369.3 823,1368.5 824,1367.6 825,1366.7 826,1366.1 827,1365.2 828,1364.3 829,1363.5 830,1362.5 831,1361.6 832,1358.5 833,1357.5 834,1356.5 835,1355.5 836,1354.5 837,1355.8 838,1354.7 839,1353.6 840,1352.4 841,1351.1 842,1349.9 843,1348.7 844,1347.5 845,1346.2 846,1344.9 847,1342.0 848,1340.7 849,1339.4 850,1338.1 851,1336.8 852,1335.5 853,1335.9 854,1334.6 855,1333.3 856,1332.0 857,1330.2 858,1329.0 859,1327.8 860,1326.5 861,1325.3 862,1324.1 863,1322.2 864,1321.0 865,1318.8 866,1317.6 867,1316.4 868,1315.1 869,1313.9 870,1312.7 871,1311.8 872,1310.6 873,1309.3 874,1308.1 875,1306.9 876,1305.6 877,1303.4 878,1302.1 879,1300.9 880,1301.5 881,1300.3 882,1299.9 883,1298.6 884,1297.3 885,1295.8 886,1294.4 887,1292.8 888,1290.1 889,1288.4 890,1287.4 891,1285.6 892,1281.6 893,1279.6 894,1277.6 895,1277.6 896,1275.7 897,1273.8 898,1271.9 899,1270.0 900,1268.2 901,1264.0 902,1262.1 903,1260.2 904,1258.3 905,1256.3 906,1254.2 907,1249.2 908,1247.0 909,1244.5 910,1241.9 911,1244.9 912,1242.3 913,1239.7 914,1237.2 915,1237.6 916,1235.2 917,1226.3 918,1224.0 919,1221.8 920,1219.6 921,1217.4 922,1215.4 923,1215.8 924,1213.9 925,1212.2 926,1210.5 927,1208.8 928,1210.8 929,1209.2 930,1207.7 931,1206.2 932,1204.6 933,1203.3 934,1202.2 935,1201.1 936,1200.5 937,1199.4 938,1198.4 939,1197.3 940,1190.3 941,1189.5 942,1188.7 943,1188.1 944,1190.4 945,1190.0 946,1192.3 947,1192.2 948,1192.1 949,1192.1 950,1191.2 951,1191.4 952,1191.5 953,1192.9 954,1193.1 955,1193.3 956,1193.6 957,1187.8 958,1188.1 959,1188.5 960,1188.9 961,1189.4 962,1190.0 963,1196.4 964,1197.2 965,1196.0 966,1197.1 967,1198.2 968,1199.4 969,1200.6 970,1201.9 971,1202.7 972,1204.0 973,1205.5 974,1207.3 975,1209.2 976,1213.9 977,1216.1 978,1218.2 979,1218.4 980,1220.2 981,1221.8 982,1223.0 983,1223.9 984,1224.5 985,1225.3 986,1226.0 987,1226.7 988,1225.2 989,1226.0 990,1226.8 991,1231.5 992,1232.4 993,1233.4 994,1234.4 995,1235.3 996,1235.9 997,1236.9 998,1237.9 999,1238.9 1000,1240.0 1001,1241.0 1002,1241.2 1003,1242.4 1004,1242.5 1005,1243.7 1006,1244.7 1007,1245.9 1008,1247.1 1009,1248.2 1010,1249.4 1011,1250.5 1012,1254.3 1013,1255.4 1014,1256.5 1015,1257.5 1016,1258.5 1017,1259.5 1018,1260.4 1019,1261.3 1020,1262.1 1021,1262.7 1022,1263.4 1023,1264.1 1024,1264.7 1025,1263.1 1026,1263.6 1027,1264.1 1028,1264.6 1029,1267.7 1030,1268.1 1031,1266.9 1032,1267.2 1033,1267.5 1034,1267.8 1035,1268.0 1036,1268.3 1037,1268.8 1038,1269.1 1039,1269.4 1040,1269.8 1041,1270.2 1042,1270.6 1043,1267.1 1044,1267.5 1045,1267.9 1046,1268.2 1047,1268.0 1048,1267.7 1049,1267.0 1050,1266.4 1051,1270.5 1052,1270.1 1053,1269.8 1054,1269.7 1055,1269.6 1056,1270.0 1057,1270.6 1058,1271.3 1059,1270.2 1060,1271.9 1061,1274.7 1062,1276.4 1063,1278.4 1064,1280.3 1065,1282.3 1066,1284.3 1067,1286.2 1068,1288.0 1069,1290.0 1070,1292.2 1071,1294.8 1072,1297.3 1073,1300.3 1074,1304.3 1075,1309.4 1076,1315.1 1077,1320.9 1078,1327.2 1079,1334.0 1080,1340.8 1081,1348.2 1082,1355.4 1083,1360.3 1084,1364.0 1085,1367.2 1086,1369.9 1087,1372.2 1088,1374.7 1089,1377.2 1090,1379.9 1091,1382.4 1092,1384.9 1093,1387.3 1094,1389.7 1095,1392.2 1096,1394.7 1097,1397.2 1098,1399.8 1099,1402.6 1100,1405.4 1101,1408.3 1102,1410.9 1103,1413.0 1104,1414.7 1105,1416.3 1106,1417.7 1107,1419.0 1108,1420.3 1109,1421.4 1110,1422.4 1111,1423.3 1112,1424.2 1113,1425.0 1114,1425.8 1115,1426.6 1116,1427.3 1117,1428.0 1118,1428.6 1119,1429.1 1120,1429.3 1121,1429.5 1122,1429.7 1123,1429.8 1124,1429.9 1125,1430.1 1126,1430.1 1127,1430.2 1128,1430.2 1129,1430.2 1130,1430.2 1131,1430.2 1132,1430.1 1133,1430.1 1134,1429.9 1135,1429.8 1136,1429.7 1137,1429.5 1138,1429.3 1139,1429.1 1140,1428.8 1141,1428.3 1142,1427.8 1143,1427.0 1144,1426.2 1145,1424.6 1146,1420.1 1147,1415.5 1148,1411.7 1149,1408.9 1150,1406.3 1151,1403.9 1152,1401.5 1153,1398.3 1154,1394.6 1155,1390.7 1156,1386.7 1157,1382.8 1158,1378.7 1159,1374.6 1160,1370.6 1161,1366.5 1162,1362.5 1163,1358.5 1164,1354.4 1165,1350.4 1166,1346.5 1167,1342.7 1168,1338.9 1169,1335.1 1170,1331.5 1171,1327.9 1172,1324.4 1173,1321.0 1174,1317.8 1175,1314.7 1176,1311.7 1177,1308.8 1178,1305.9 1179,1303.0 1180,1300.0 1181,1297.0 1182,1293.9 1183,1290.8 1184,1287.8 1185,1284.7 1186,1281.6 1187,1278.5 1188,1275.4 1189,1272.3 1190,1269.2 1191,1266.1 1192,1263.0 1193,1259.9 1194,1256.8 1195,1253.7 1196,1250.6 1197,1247.5 1198,1244.4 1199,1241.4 1200,1238.3 1201,1235.3 1202,1232.3 1203,1229.3 1204,1226.3 1205,1223.3 1206,1220.4 1207,1217.4 1208,1214.5 1209,1211.5 1210,1208.5 1211,1205.6 1212,1202.6 1213,1199.6 1214,1196.6 1215,1193.5 1216,1190.5 1217,1187.4 1218,1184.2 1219,1181.1 1220,1177.9 1221,1174.8 1222,1171.6 1223,1168.5 1224,1165.3 1225,1162.1 1226,1158.8 1227,1155.6 1228,1152.2 1229,1148.9 1230,1145.5 1231,1142.0 1232,1138.4 1233,1134.8 1234,1131.1 1235,1127.4 1236,1123.5 1237,1119.6 1238,1115.7 1239,1111.6 1240,1107.5 1241,1103.3 1242,1099.0 1243,1094.5 1244,1089.9 1245,1085.2 1246,1080.4 1247,1075.4 1248,1070.1 1249,1064.6 1250,1058.9 1251,1052.8 1252,1046.5 1253,1040.0 1254,1033.4 1255,1026.7 1256,1019.8 1257,1012.6 1258,1005.0 1259,997.2 1260,989.2 1261,978.9 1262,971.0 1263,963.4 1264,955.9 1265,951.8 1266,944.7 1267,937.8 1268,931.1 1269,924.4 1270,918.2 1271,908.2 1272,902.8 1273,897.4 1274,897.1 1275,891.6 1276,886.1 1277,880.2 1278,874.1 1279,868.0 1280,862.0 1281,850.1 1282,844.4 1283,838.9 1284,835.4 1285,830.5 1286,825.8 1287,821.3 1288,816.9 1289,816.8 1290,812.6 1291,808.4 1292,803.6 1293,799.2 1294,794.8 1295,784.1 1296,779.4 1297,780.6 1298,775.7 1299,770.9 1300,758.3 1301,753.4 1302,748.7 1303,744.2 1304,739.8 1305,735.7 1306,738.0 1307,734.6 1308,734.0 1309,730.8 1310,727.9 1311,724.5 1312,720.8 1313,706.0 1314,701.5 1315,696.6 1316,691.5 1317,684.4 1318,678.5 1319,686.6 1320,682.3 1321,678.3 1322,672.2 1323,668.6 1324,660.4 1325,656.9 1326,653.2 1327,649.3 1328,649.2 1329,644.7 1330,643.4 1331,639.0 1332,635.1 1333,623.6 1334,620.3 1335,617.2 1336,614.2 1337,611.1 1338,608.1 1339,613.5 1340,610.7 1341,607.9 1342,604.5 1343,601.8 1344,599.2 1345,596.6 1346,594.4 1347,591.8 1348,589.2 1349,586.6 1350,572.6 1351,570.0 1352,571.2 1353,568.8 1354,572.4 1355,570.2 1356,560.8 1357,558.8 1358,556.9 1359,548.5 1360,546.7 1361,545.1 1362,543.6 1363,542.2 1364,540.7 1365,539.2 1366,537.8 1367,536.4 1368,535.0 1369,533.6 1370,540.7 1371,539.3 1372,538.0 1373,536.7 1374,538.1 1375,536.8 1376,535.5 1377,534.2 1378,534.4 1379,532.9 1380,525.5 1381,523.9 1382,522.2 1383,522.7 1384,520.8 1385,519.0 1386,517.0 1387,515.1 1388,513.1 1389,514.0 1390,511.8 1391,509.4 1392,507.0 1393,498.1 1394,496.3 1395,494.9 1396,504.0 1397,503.0 1398,502.1 1399,501.3 1400,500.4 1401,499.3 1402,483.3 1403,482.0 1404,480.8 1405,483.0 1406,482.1 1407,481.4 1408,480.8 1409,480.5 1410,480.4 1411,489.6 1412,489.7 1413,491.3 1414,491.9 1415,493.0 1416,491.4 1417,489.9 1418,488.3 1419,486.6 1420,484.9 1421,474.3 1422,472.2 1423,474.2 1424,470.9 1425,467.4 1426,458.8 1427,455.3 1428,452.0 1429,448.6 1430,445.1 1431,452.7 1432,449.1 1433,435.6 1434,432.1 1435,428.7 1436,425.5 1437,422.4 1438,416.9 1439,414.1 1440,411.4 1441,408.8 1442,406.2 1443,415.0 1444,412.3 1445,409.6 1446,399.9 1447,396.9 1448,402.0 1449,399.0 1450,393.7 1451,390.6 1452,387.6 1453,377.6 1454,374.8 1455,372.2 1456,369.7 1457,367.1 1458,364.7 1459,367.4 1460,365.0 1461,360.0 1462,357.6 1463,356.6 1464,354.1 1465,351.3 1466,348.3 1467,345.3 1468,347.7 1469,344.9 1470,340.7 1471,338.1 1472,331.8 1473,329.8 1474,328.3 1475,332.5 1476,331.4 1477,330.3 1478,329.5 1479,319.2 1480,318.3 1481,324.2 1482,323.1 1483,321.8 1484,322.5 1485,321.2 1486,319.8 1487,318.4 1488,317.1 1489,313.6 1490,312.2 1491,311.0 1492,309.8 1493,310.6 1494,309.4 1495,308.4 1496,307.4 1497,306.6 1498,306.6 1499,305.8 1500,305.0 1501,304.3 1502,303.5 1503,302.7 1504,291.4 1505,290.7 1506,290.1 1507,289.5 1508,288.9 1509,288.4 1510,292.2 1511,291.9 1512,291.6 1513,291.3 1514,291.1 1515,290.1 1516,290.1 1517,290.1 1518,290.2 1519,290.3 1520,284.6 1521,284.7 1522,285.0 1523,285.2 1524,285.5 1525,284.5 1526,284.8 1527,285.2 1528,285.5 1529,286.0 1530,301.1 1531,301.5 1532,302.0 1533,302.5 1534,303.0 1535,303.5 1536,290.4 1537,291.1 1538,292.0 1539,306.5 1540,307.7 1541,308.8 1542,310.0 1543,311.3 1544,302.2 1545,303.6 1546,305.0 1547,305.2 1548,306.6 1549,308.0 1550,309.3 1551,310.5 1552,311.6 1553,320.8 1554,321.7 1555,322.7 1556,323.6 1557,324.6 1558,325.5 1559,313.2 1560,314.2 1561,315.4 1562,316.5 1563,317.7 1564,327.5 1565,328.9 1566,330.3 1567,340.8 1568,342.0 1569,342.5 1570,343.4 1571,344.3 1572,345.2 1573,346.2 1574,333.2 1575,334.3 1576,349.3 1577,350.5 1578,347.1 1579,348.5 1580,350.2 1581,352.1 1582,359.5 1583,362.1 1584,350.7 1585,356.5 1586,365.0 1587,369.4 1588,373.6 1589,377.6 1590,379.7 1591,383.5 1592,387.3 1593,391.0 1594,394.9 1595,398.8 1596,415.2 1597,419.1 1598,423.0 1599,427.7 1600,431.7 1601,435.7 1602,439.8 1603,444.2 1604,448.7 1605,437.0 1606,442.0 1607,447.1 1608,452.2 1609,466.2 1610,471.3 1611,476.3 1612,481.5 1613,486.7 1614,494.7 1615,499.8 1616,504.6 1617,515.4 1618,519.7 1619,523.5 1620,527.1 1621,530.5 1622,534.1 1623,533.4 1624,537.5 1625,542.2 1626,547.7 1627,555.0 1628,563.3 1629,572.9 1630,582.5 1631,595.9 1632,603.3 1633,609.9 1634,616.1 1635,622.0 1636,627.7 1637,632.1 1638,637.3 1639,642.4 1640,647.4 1641,644.3 1642,648.9 1643,662.6 1644,666.8 1645,670.9 1646,675.1 1647,679.3 1648,683.6 1649,681.1 1650,685.7 1651,694.7 1652,699.6 1653,704.6 1654,706.3 1655,711.6 1656,717.4 1657,723.4 1658,729.3 1659,734.9 1660,745.5 1661,750.5 1662,755.3 1663,760.1 1664,762.8 1665,768.1 1666,773.9 1667,780.2 1668,786.3 1669,792.1 1670,797.6 1671,805.5 1672,810.7 1673,815.7 1674,814.9 1675,819.6 1676,824.3 1677,828.9 1678,833.4 1679,843.1 1680,846.9 1681,850.3 1682,852.9 1683,855.1 1684,857.1 1685,850.5 1686,852.4 1687,854.3 1688,862.9 1689,864.7 1690,867.8 1691,869.3 1692,870.8 1693,872.3 1694,873.8 1695,875.4 1696,872.1 1697,874.0 1698,876.1 1699,875.1 1700,877.4 1701,879.6 1702,881.7 1703,891.6 1704,893.5 1705,895.4 1706,897.3 1707,891.5 1708,893.3 1709,895.1 1710,896.9 1711,898.7 1712,900.4 1713,902.1 1714,903.6 1715,905.2 1716,912.5 1717,913.9 1718,915.2 1719,916.5 1720,917.7 1721,918.9 1722,922.0 1723,923.1 1724,924.2 1725,925.3 1726,926.3 1727,927.4 1728,928.4 1729,929.4 1730,930.4 1731,931.4 1732,932.4 1733,933.4 1734,934.5 1735,935.6 1736,936.6 1737,937.7 1738,936.9 1739,938.1 1740,939.3 1741,940.4 1742,943.5 1743,944.7 1744,945.9 1745,947.2 1746,941.4 1747,942.6 1748,943.9 1749,945.1 1750,946.4 1751,947.7 1752,956.3 1753,957.6 1754,958.9 1755,960.2 1756,961.5 1757,961.1 1758,962.4 1759,963.8 1760,965.1 1761,966.5 1762,967.9 1763,965.3 1764,966.7 1765,968.1 1766,974.5 1767,975.9 1768,977.3 1769,978.7 1770,980.1 1771,981.0 1772,982.4 1773,983.8 1774,986.1 1775,987.5 1776,988.9 1777,990.2 1778,991.6 1779,992.9 1780,990.9 1781,992.2 1782,990.0 1783,991.3 1784,992.6 1785,993.9 1786,1002.2 1787,1003.5 1788,1004.8 1789,1003.2 1790,1004.5 1791,1005.9 1792,1007.4 1793,1008.8 1794,1008.6 1795,1010.2 1796,1011.8 1797,1017.9 1798,1019.5 1799,1021.2 1800,1017.2 1801,1019.0 1802,1026.4 1803,1028.2 1804,1030.0 1805,1031.9 1806,1033.8 1807,1028.5 1808,1030.4 1809,1032.4 1810,1034.4 1811,1036.6 1812,1038.4 1813,1040.6 1814,1042.8 1815,1044.8 1816,1053.0 1817,1054.7 1818,1055.7 1819,1057.2 1820,1058.6 1821,1059.9 1822,1061.2 1823,1063.4 1824,1064.6 1825,1065.7 1826,1066.9 1827,1065.8 1828,1067.0 1829,1068.2 1830,1064.7 1831,1065.9 1832,1067.2 1833,1068.5 1834,1069.9 1835,1071.3 1836,1073.0 1837,1074.6 1838,1076.2 1839,1077.9 1840,1079.6 1841,1086.8 1842,1088.6 1843,1090.4 1844,1092.2 1845,1094.0 1846,1095.3 1847,1097.2 1848,1099.0 1849,1103.4 1850,1105.2 1851,1106.9 1852,1108.6 1853,1110.2 1854,1111.9 1855,1113.6 1856,1115.3 1857,1117.0 1858,1110.9 1859,1112.6 1860,1114.2 1861,1115.9 1862,1117.6 1863,1123.0 1864,1124.6 1865,1126.2 1866,1127.9 1867,1129.5 1868,1130.2 1869,1131.8 1870,1138.4 1871,1140.0 1872,1141.5 1873,1143.0 1874,1138.9 1875,1140.4 1876,1141.9 1877,1143.4 1878,1150.0 1879,1151.5 1880,1152.9 1881,1154.4 1882,1155.9 1883,1157.3 1884,1155.4 1885,1156.8 1886,1158.3 1887,1163.7 1888,1165.2 1889,1165.3 1890,1166.7 1891,1168.2 1892,1169.7 1893,1171.3 1894,1172.8 1895,1175.2 1896,1176.8 1897,1178.3 1898,1172.8 1899,1174.3 1900,1175.8 1901,1177.3 1902,1178.8 1903,1187.9 1904,1189.3 1905,1190.8 1906,1192.2 1907,1193.5 1908,1194.8 1909,1196.2 1910,1197.5 1911,1198.8 1912,1198.6 1913,1199.8 1914,1201.1 1915,1202.3 1916,1203.5 1917,1204.7 1918,1200.2 1919,1201.4 1920,1209.8 1921,1210.9 1922,1212.1 1923,1213.2 1924,1214.2 1925,1215.3 1926,1215.3 1927,1216.4 1928,1217.4 1929,1218.6 1930,1219.6 1931,1220.7 1932,1221.7 1933,1218.2 1934,1219.2 1935,1220.2 1936,1221.3 1937,1222.3 1938,1223.3 1939,1228.5 1940,1229.5 1941,1232.3 1942,1233.3 1943,1234.3 1944,1235.3 1945,1234.6 1946,1235.6 1947,1236.5 1948,1237.3 1949,1238.1 1950,1238.9 1951,1235.1 1952,1235.8 1953,1236.4 1954,1239.2 1955,1239.8 1956,1240.3 1957,1244.7 1958,1245.2 1959,1245.8 1960,1246.3 1961,1246.7 1962,1243.5 1963,1244.0 1964,1244.5 1965,1244.9 1966,1244.1 1967,1244.4 1968,1244.8 1969,1242.1 1970,1242.4 1971,1242.7 1972,1243.0 1973,1243.2 1974,1243.5 1975,1250.9 1976,1251.1 1977,1251.3 1978,1251.5 1979,1252.0 1980,1252.1 1981,1252.3 1982,1252.5 1983,1247.8 1984,1248.0 1985,1248.2 1986,1248.4 1987,1248.6 1988,1250.9 1989,1251.1 1990,1251.3 1991,1251.5 1992,1251.7 1993,1253.2 1994,1253.4 1995,1253.7 1996,1253.9 1997,1254.2 1998,1250.8 1999,1251.1 2000,1251.5 2001,1251.9 2002,1252.3 2003,1257.5 2004,1258.0 2005,1258.4 2006,1257.0 2007,1257.5 2008,1258.1 2009,1258.6 2010,1259.2 2011,1261.7 2012,1262.2 2013,1262.8 2014,1257.6 2015,1258.1 2016,1258.7 2017,1259.2 2018,1259.8 2019,1266.0 2020,1266.5 2021,1267.0 2022,1267.6 2023,1268.1 2024,1268.5 2025,1269.1 2026,1269.7 2027,1270.3 2028,1270.9 2029,1271.6 2030,1267.0 2031,1267.7 2032,1268.4 2033,1274.4 2034,1275.2 2035,1274.7 2036,1275.6 2037,1276.5 2038,1277.5 2039,1278.6 2040,1279.8 2041,1282.4 2042,1283.7 2043,1285.1 2044,1286.5 2045,1287.9 2046,1289.4 2047,1290.5 2048,1291.9 2049,1293.3 2050,1294.6 2051,1295.8 2052,1297.0 2053,1295.4 2054,1296.6 2055,1297.8 2056,1302.1 2057,1303.3 2058,1304.4 2059,1305.6 2060,1301.9 2061,1303.1 2062,1304.2 2063,1310.2 2064,1311.3 2065,1312.4 2066,1313.4 2067,1314.5 2068,1310.4 2069,1311.4 2070,1312.4 2071,1313.5 2072,1318.7 2073,1319.7 2074,1320.7 2075,1321.8 2076,1322.8 2077,1323.8 2078,1325.5 2079,1326.5 2080,1327.5 2081,1328.4 2082,1329.3 2083,1330.3 2084,1331.1 2085,1332.0 2086,1332.8 2087,1333.5 2088,1334.3 2089,1330.6 2090,1331.2 2091,1331.8 2092,1332.4 2093,1332.9 2094,1335.3 2095,1335.8 2096,1336.2 2097,1336.6 2098,1336.9 2099,1337.3 2100,1337.2 2101,1337.5 2102,1337.8 2103,1338.1 2104,1338.4 2105,1340.6 2106,1340.9 2107,1339.1 2108,1339.5 2109,1339.8 2110,1340.2 2111,1340.6 2112,1341.0 2113,1342.3 2114,1342.7 2115,1342.9 2116,1343.4 2117,1346.4 2118,1347.0 2119,1344.0 2120,1344.7 2121,1345.5 2122,1350.0 2123,1350.9 2124,1351.8 2125,1352.8 2126,1352.4 2127,1353.4 2128,1354.4 2129,1355.4 2130,1356.4 2131,1357.4 2132,1359.6 2133,1360.5 2134,1361.5 2135,1358.9 2136,1359.7 2137,1361.9 2138,1362.8 2139,1363.7 2140,1366.6 2141,1367.4 2142,1368.3 2143,1369.1 2144,1370.0 2145,1369.4 2146,1370.2 2147,1372.3 2148,1373.2 2149,1374.0 2150,1374.8 2151,1375.5 2152,1376.5 2153,1377.3 2154,1378.0 2155,1378.8 2156,1379.6 2157,1379.2 2158,1380.0 2159,1380.7 2160,1381.4 2161,1382.8 2162,1383.5 2163,1382.1 2164,1382.8 2165,1385.0 2166,1385.7 2167,1386.4 2168,1387.2 2169,1387.9 2170,1389.8 2171,1390.6 2172,1391.3 2173,1392.0 2174,1392.8 2175,1392.2 2176,1392.9 2177,1391.6 2178,1392.3 2179,1393.0 2180,1393.7 2181,1394.4 2182,1395.1 2183,1396.0 2184,1396.6 2185,1399.6 2186,1400.2 2187,1400.8 2188,1401.4 2189,1402.0 2190,1402.5 2191,1404.0 2192,1404.5 2193,1405.0 2194,1405.5 2195,1406.0 2196,1406.5 2197,1406.9 2198,1407.4 2199,1407.8 2200,1408.3 2201,1407.2 2202,1407.6 2203,1408.0 2204,1406.7 2205,1407.1 2206,1407.5 2207,1407.9 2208,1408.3 2209,1411.1 2210,1411.4 2211,1411.8 2212,1412.1 2213,1412.5 2214,1412.8 2215,1411.8 2216,1412.1 2217,1412.4 2218,1412.3 2219,1412.6 2220,1412.8 2221,1413.1 2222,1415.4 2223,1415.6 2224,1415.9 2225,1416.1 2226,1416.4 2227,1414.5 2228,1414.8 2229,1414.7 2230,1415.0 2231,1415.2 2232,1415.4 2233,1415.7 2234,1415.9 2235,1416.1 2236,1416.3 2237,1416.6 2238,1416.8 2239,1417.1 2240,1417.3 2241,1420.1 2242,1420.3 2243,1420.6 2244,1417.8 2245,1418.1 2246,1418.4 2247,1418.6 2248,1418.9 2249,1421.2 2250,1421.4 2251,1421.7 2252,1422.0 2253,1423.2 2254,1423.4 2255,1423.3 2256,1423.5 2257,1423.8 2258,1424.0 2259,1423.6 2260,1423.9 2261,1424.1 2262,1424.3 2263,1424.6 2264,1424.8 2265,1425.6 2266,1425.8 2267,1426.0 2268,1426.2 2269,1427.2 2270,1427.4 2271,1424.5 2272,1424.7 2273,1424.9 2274,1428.2 2275,1428.4 2276,1428.6 2277,1428.8 2278,1428.8 2279,1429.0 2280,1429.2 2281,1429.3 2282,1429.5 2283,1429.9 2284,1430.0 2285,1430.2 2286,1430.4 2287,1428.2 2288,1428.4 2289,1428.6 2290,1428.7 2291,1428.9 2292,1430.2 2293,1430.4 2294,1430.6 2295,1430.8 2296,1430.9 2297,1431.1 2298,1429.8 2299,1430.0 2300,1430.7 2301,1430.8 2302,1432.2 2303,1432.3 2304,1432.5 2305,1432.6 2306,1432.8 2307,1433.0 2308,1433.2 2309,1433.7 2310,1433.8 2311,1433.9 2312,1434.3 2313,1434.4 2314,1434.5 2315,1434.3 2316,1434.4 2317,1434.5 2318,1434.7 2319,1434.8 2320,1435.3 2321,1435.5 2322,1435.6 2323,1435.7 2324,1435.8 2325,1435.9 2326,1436.0 2327,1436.1 2328,1436.2 2329,1436.3 2330,1436.4 2331,1435.4 2332,1435.5 2333,1435.6 2334,1436.4 2335,1436.5 2336,1436.5 2337,1436.2 2338,1436.3 2339,1436.3 2340,1436.4 2341,1437.1 2342,1437.2 2343,1437.3 2344,1437.3 2345,1437.4 2346,1437.5 2347,1437.6 2348,1437.7 2349,1437.7 2350,1437.8 2351,1437.7 2352,1437.8 2353,1437.8 2354,1437.8 2355,1437.9 2356,1437.9 2357,1438.0 2358,1438.0 2359,1438.0 2360,1435.3 2361,1435.3 2362,1435.4 2363,1438.3 2364,1438.3 2365,1438.3 2366,1438.3 2366,1452.5 2365,1450.6 2364,1450.6 2363,1450.6 2362,1450.5 2361,1451.9 2360,1451.8 2359,1450.5 2358,1450.5 2357,1450.4 2356,1450.4 2355,1450.3 2354,1449.3 2353,1449.2 2352,1449.2 2351,1451.7 2350,1451.7 2349,1451.6 2348,1451.6 2347,1448.9 2346,1448.9 2345,1448.8 2344,1448.7 2343,1448.7 2342,1449.9 2341,1449.8 2340,1449.8 2339,1449.7 2338,1449.7 2337,1449.3 2336,1449.2 2335,1449.1 2334,1449.0 2333,1449.0 2332,1448.9 2331,1450.6 2330,1450.5 2329,1450.4 2328,1449.0 2327,1448.9 2326,1448.8 2325,1448.7 2324,1448.6 2323,1448.5 2322,1446.9 2321,1446.8 2320,1446.7 2319,1446.6 2318,1446.5 2317,1447.1 2316,1447.0 2315,1446.3 2314,1446.1 2313,1446.2 2312,1446.1 2311,1445.9 2310,1445.8 2309,1445.7 2308,1445.6 2307,1447.1 2306,1447.0 2305,1446.9 2304,1446.7 2303,1446.6 2302,1444.5 2301,1444.4 2300,1444.2 2299,1444.1 2298,1443.9 2297,1443.8 2296,1444.3 2295,1444.1 2294,1444.0 2293,1443.8 2292,1443.0 2291,1442.9 2290,1442.7 2289,1442.6 2288,1444.2 2287,1444.1 2286,1443.9 2285,1443.8 2284,1443.6 2283,1444.2 2282,1444.0 2281,1443.8 2280,1443.7 2279,1443.5 2278,1443.3 2277,1442.8 2276,1442.6 2275,1442.4 2274,1442.3 2273,1442.1 2272,1439.9 2271,1439.7 2270,1439.5 2269,1439.3 2268,1439.1 2267,1438.7 2266,1438.5 2265,1438.1 2264,1437.9 2263,1437.7 2262,1438.1 2261,1437.9 2260,1437.7 2259,1437.4 2258,1437.2 2257,1436.6 2256,1436.3 2255,1436.1 2254,1437.6 2253,1437.3 2252,1437.1 2251,1436.8 2250,1436.5 2249,1436.3 2248,1434.9 2247,1434.6 2246,1434.4 2245,1434.1 2244,1433.8 2243,1433.6 2242,1432.7 2241,1432.4 2240,1432.2 2239,1431.9 2238,1431.7 2237,1434.5 2236,1434.3 2235,1430.7 2234,1430.5 2233,1430.3 2232,1430.1 2231,1429.8 2230,1429.6 2229,1430.5 2228,1430.3 2227,1430.0 2226,1429.8 2225,1429.6 2224,1431.3 2223,1431.1 2222,1429.5 2221,1429.2 2220,1429.0 2219,1428.7 2218,1428.6 2217,1428.4 2216,1428.1 2215,1425.9 2214,1425.6 2213,1425.3 2212,1425.0 2211,1425.3 2210,1425.0 2209,1424.6 2208,1424.3 2207,1424.0 2206,1424.6 2205,1424.2 2204,1423.8 2203,1422.1 2202,1421.7 2201,1421.3 2200,1420.9 2199,1420.4 2198,1420.0 2197,1419.6 2196,1419.1 2195,1418.7 2194,1418.3 2193,1419.5 2192,1419.0 2191,1418.5 2190,1418.1 2189,1417.6 2188,1416.0 2187,1415.5 2186,1415.0 2185,1414.4 2184,1413.8 2183,1413.3 2182,1415.8 2181,1415.2 2180,1414.5 2179,1413.9 2178,1410.9 2177,1410.2 2176,1409.5 2175,1408.8 2174,1408.1 2173,1406.1 2172,1405.4 2171,1404.7 2170,1404.0 2169,1403.2 2168,1405.3 2167,1404.6 2166,1403.8 2165,1403.1 2164,1402.4 2163,1399.0 2162,1398.3 2161,1400.8 2160,1400.1 2159,1399.4 2158,1398.7 2157,1398.0 2156,1395.2 2155,1394.5 2154,1393.7 2153,1393.0 2152,1392.3 2151,1392.0 2150,1391.2 2149,1390.5 2148,1388.2 2147,1387.5 2146,1386.7 2145,1386.0 2144,1385.2 2143,1384.2 2142,1383.4 2141,1382.6 2140,1381.8 2139,1382.0 2138,1381.2 2137,1380.3 2136,1379.5 2135,1378.7 2134,1377.8 2133,1379.6 2132,1378.7 2131,1377.9 2130,1373.3 2129,1372.4 2128,1371.7 2127,1370.8 2126,1369.9 2125,1368.9 2124,1368.4 2123,1367.4 2122,1366.4 2121,1365.4 2120,1364.5 2119,1363.5 2118,1363.2 2117,1362.3 2116,1360.2 2115,1359.4 2114,1358.6 2113,1357.9 2112,1357.3 2111,1356.7 2110,1356.3 2109,1355.8 2108,1355.4 2107,1358.5 2106,1358.2 2105,1354.7 2104,1354.3 2103,1354.0 2102,1353.6 2101,1353.3 2100,1353.0 2099,1352.7 2098,1356.9 2097,1356.6 2096,1353.0 2095,1352.7 2094,1350.9 2093,1350.5 2092,1352.4 2091,1352.0 2090,1351.6 2089,1351.2 2088,1348.4 2087,1347.9 2086,1347.4 2085,1346.8 2084,1349.2 2083,1348.5 2082,1347.4 2081,1346.7 2080,1344.3 2079,1343.5 2078,1342.7 2077,1342.3 2076,1341.5 2075,1339.1 2074,1338.2 2073,1337.3 2072,1336.3 2071,1335.3 2070,1334.3 2069,1337.1 2068,1336.1 2067,1335.1 2066,1334.1 2065,1333.1 2064,1332.1 2063,1328.5 2062,1327.5 2061,1326.5 2060,1325.5 2059,1324.4 2058,1322.7 2057,1321.6 2056,1320.5 2055,1319.4 2054,1318.3 2053,1317.2 2052,1315.6 2051,1314.5 2050,1313.8 2049,1312.6 2048,1311.4 2047,1310.3 2046,1309.1 2045,1307.4 2044,1306.2 2043,1305.0 2042,1303.8 2041,1302.5 2040,1301.2 2039,1299.6 2038,1298.1 2037,1296.7 2036,1295.3 2035,1297.4 2034,1296.0 2033,1294.8 2032,1293.6 2031,1289.2 2030,1288.3 2029,1287.5 2028,1286.5 2027,1285.7 2026,1285.0 2025,1284.4 2024,1283.7 2023,1283.1 2022,1282.5 2021,1282.6 2020,1282.1 2019,1283.5 2018,1283.0 2017,1285.8 2016,1285.4 2015,1279.0 2014,1278.5 2013,1278.0 2012,1277.5 2011,1278.8 2010,1278.3 2009,1277.8 2008,1277.3 2007,1276.8 2006,1277.7 2005,1277.2 2004,1276.7 2003,1279.1 2002,1278.6 2001,1272.3 2000,1271.8 1999,1271.4 1998,1271.0 1997,1271.7 1996,1271.4 1995,1271.2 1994,1270.9 1993,1270.7 1992,1270.5 1991,1269.2 1990,1269.0 1989,1268.8 1988,1268.7 1987,1268.0 1986,1267.8 1985,1267.7 1984,1267.5 1983,1267.4 1982,1267.3 1981,1268.3 1980,1268.2 1979,1268.0 1978,1271.0 1977,1270.8 1976,1267.7 1975,1267.6 1974,1267.4 1973,1267.2 1972,1267.1 1971,1270.4 1970,1270.2 1969,1270.0 1968,1264.9 1967,1264.6 1966,1264.3 1965,1263.9 1964,1263.6 1963,1263.3 1962,1263.0 1961,1262.6 1960,1262.2 1959,1265.6 1958,1265.2 1957,1266.7 1956,1266.2 1955,1265.7 1954,1265.2 1953,1264.7 1952,1264.2 1951,1258.1 1950,1257.5 1949,1256.9 1948,1256.0 1947,1255.4 1946,1254.7 1945,1254.1 1944,1253.3 1943,1252.5 1942,1256.0 1941,1255.1 1940,1254.2 1939,1253.3 1938,1252.3 1937,1251.9 1936,1250.9 1935,1249.9 1934,1248.9 1933,1243.1 1932,1242.0 1931,1241.0 1930,1240.0 1929,1239.0 1928,1245.2 1927,1244.2 1926,1243.1 1925,1235.4 1924,1234.4 1923,1233.3 1922,1232.3 1921,1231.2 1920,1230.1 1919,1228.4 1918,1227.3 1917,1228.5 1916,1227.4 1915,1226.2 1914,1225.1 1913,1223.9 1912,1222.8 1911,1220.3 1910,1219.1 1909,1217.0 1908,1215.8 1907,1214.6 1906,1213.3 1905,1212.1 1904,1211.9 1903,1210.6 1902,1209.4 1901,1208.1 1900,1206.7 1899,1205.4 1898,1210.9 1897,1209.5 1896,1208.0 1895,1206.6 1894,1205.1 1893,1203.7 1892,1202.2 1891,1200.6 1890,1199.1 1889,1197.6 1888,1193.3 1887,1191.8 1886,1190.3 1885,1188.7 1884,1187.2 1883,1182.4 1882,1180.9 1881,1179.4 1880,1178.0 1879,1176.5 1878,1175.0 1877,1176.4 1876,1175.0 1875,1173.5 1874,1168.3 1873,1166.8 1872,1165.4 1871,1163.9 1870,1162.4 1869,1160.9 1868,1166.5 1867,1165.0 1866,1163.4 1865,1161.9 1864,1160.4 1863,1151.9 1862,1150.3 1861,1148.8 1860,1147.2 1859,1150.9 1858,1149.3 1857,1147.7 1856,1146.0 1855,1144.4 1854,1140.5 1853,1138.8 1852,1138.4 1851,1136.7 1850,1134.2 1849,1132.6 1848,1130.9 1847,1126.2 1846,1124.5 1845,1122.8 1844,1119.3 1843,1117.6 1842,1117.4 1841,1115.6 1840,1113.8 1839,1118.8 1838,1117.0 1837,1115.2 1836,1113.3 1835,1106.4 1834,1104.6 1833,1102.9 1832,1102.9 1831,1101.2 1830,1099.5 1829,1097.8 1828,1091.3 1827,1089.8 1826,1088.3 1825,1086.9 1824,1086.0 1823,1084.7 1822,1083.5 1821,1083.5 1820,1082.3 1819,1081.1 1818,1080.0 1817,1078.8 1816,1075.9 1815,1074.7 1814,1080.6 1813,1079.3 1812,1077.9 1811,1069.8 1810,1068.4 1809,1066.8 1808,1065.2 1807,1063.3 1806,1063.1 1805,1061.0 1804,1058.8 1803,1056.6 1802,1054.4 1801,1050.8 1800,1048.9 1799,1047.1 1798,1045.2 1797,1052.3 1796,1050.5 1795,1048.8 1794,1047.1 1793,1045.4 1792,1043.7 1791,1038.0 1790,1036.4 1789,1034.8 1788,1033.3 1787,1031.8 1786,1024.6 1785,1023.1 1784,1030.8 1783,1029.5 1782,1028.2 1781,1026.9 1780,1018.0 1779,1016.7 1778,1015.5 1777,1013.6 1776,1012.4 1775,1011.1 1774,1009.9 1773,1009.1 1772,1007.9 1771,1006.6 1770,1012.3 1769,1011.0 1768,1009.7 1767,1008.4 1766,1007.1 1765,1005.7 1764,995.9 1763,994.6 1762,993.2 1761,991.8 1760,990.4 1759,999.4 1758,998.1 1757,990.4 1756,989.0 1755,987.7 1754,986.3 1753,986.4 1752,985.1 1751,983.8 1750,982.5 1749,981.2 1748,974.7 1747,973.4 1746,972.1 1745,970.8 1744,969.5 1743,968.2 1742,970.1 1741,968.8 1740,967.5 1739,966.3 1738,965.0 1737,965.6 1736,964.4 1735,963.2 1734,961.9 1733,960.7 1732,959.5 1731,962.4 1730,961.2 1729,960.1 1728,959.0 1727,958.0 1726,956.9 1725,947.0 1724,946.0 1723,945.0 1722,944.0 1721,942.5 1720,941.4 1719,940.4 1718,939.3 1717,946.5 1716,945.4 1715,944.3 1714,939.0 1713,937.8 1712,936.6 1711,937.5 1710,936.2 1709,928.3 1708,926.9 1707,925.5 1706,928.7 1705,927.1 1704,920.9 1703,919.2 1702,917.4 1701,915.7 1700,923.9 1699,922.0 1698,913.5 1697,911.6 1696,909.7 1695,907.8 1694,905.8 1693,903.7 1692,898.7 1691,896.5 1690,894.3 1689,892.3 1688,890.4 1687,888.8 1686,894.5 1685,893.2 1684,891.9 1683,890.6 1682,889.2 1681,887.8 1680,877.7 1679,876.1 1678,874.5 1677,872.9 1676,871.9 1675,870.0 1674,867.9 1673,865.6 1672,862.3 1671,859.6 1670,856.4 1669,852.7 1668,862.0 1667,857.9 1666,853.6 1665,849.3 1664,845.0 1663,840.4 1662,820.9 1661,815.8 1660,810.6 1659,805.2 1658,799.5 1657,793.5 1656,787.6 1655,781.9 1654,789.6 1653,784.7 1652,779.9 1651,775.2 1650,770.3 1649,765.1 1648,749.3 1647,743.3 1646,737.4 1645,731.6 1644,726.3 1643,718.5 1642,713.5 1641,708.6 1640,703.8 1639,699.1 1638,698.4 1637,694.0 1636,689.8 1635,685.7 1634,681.6 1633,677.3 1632,670.1 1631,665.6 1630,660.8 1629,655.8 1628,650.7 1627,645.5 1626,656.5 1625,650.8 1624,643.0 1623,636.7 1622,630.1 1621,611.3 1620,602.5 1619,592.9 1618,592.3 1617,583.5 1616,576.2 1615,559.9 1614,555.2 1613,551.0 1612,547.3 1611,541.7 1610,538.3 1609,539.4 1608,535.6 1607,541.3 1606,536.7 1605,531.8 1604,526.8 1603,515.7 1602,510.5 1601,496.4 1600,491.3 1599,486.2 1598,481.1 1597,475.9 1596,470.8 1595,469.8 1594,465.0 1593,460.5 1592,452.9 1591,448.7 1590,444.7 1589,440.8 1588,445.5 1587,441.7 1586,437.8 1585,424.5 1584,420.5 1583,416.7 1582,412.9 1581,409.1 1580,423.3 1579,419.4 1578,415.4 1577,411.2 1576,406.8 1575,387.4 1574,381.6 1573,377.6 1572,375.6 1571,374.0 1570,372.6 1569,382.9 1568,381.7 1567,380.5 1566,379.6 1565,378.7 1564,379.4 1563,378.5 1562,377.5 1561,376.4 1560,375.3 1559,374.1 1558,362.1 1557,360.7 1556,359.3 1555,353.7 1554,352.5 1553,351.5 1552,350.4 1551,349.5 1550,347.7 1549,346.8 1548,345.8 1547,345.3 1546,344.3 1545,341.1 1544,340.0 1543,340.4 1542,339.2 1541,337.9 1540,341.0 1539,339.6 1538,338.2 1537,336.7 1536,335.3 1535,328.3 1534,327.0 1533,325.8 1532,324.7 1531,323.8 1530,325.9 1529,325.4 1528,322.2 1527,321.7 1526,321.2 1525,320.8 1524,320.4 1523,320.0 1522,324.8 1521,324.5 1520,324.2 1519,324.0 1518,323.8 1517,318.2 1516,318.2 1515,318.3 1514,318.5 1513,319.0 1512,319.5 1511,324.1 1510,324.8 1509,325.5 1508,326.3 1507,327.0 1506,327.8 1505,334.2 1504,335.0 1503,335.8 1502,336.6 1501,330.4 1500,331.5 1499,332.6 1498,333.0 1497,334.3 1496,335.6 1495,336.9 1494,338.2 1493,348.3 1492,349.6 1491,350.8 1490,352.0 1489,343.3 1488,344.4 1487,345.5 1486,346.4 1485,356.1 1484,356.9 1483,357.8 1482,358.8 1481,355.3 1480,357.2 1479,359.5 1478,362.3 1477,365.1 1476,368.1 1475,366.7 1474,369.5 1473,372.1 1472,374.7 1471,377.0 1470,379.4 1469,381.7 1468,384.1 1467,386.4 1466,397.1 1465,399.5 1464,402.2 1463,404.9 1462,407.8 1461,407.3 1460,410.3 1459,413.4 1458,416.5 1457,419.6 1456,422.6 1455,428.7 1454,431.5 1453,429.7 1452,432.3 1451,435.0 1450,437.7 1449,449.2 1448,452.0 1447,455.0 1446,458.1 1445,461.5 1444,462.7 1443,466.3 1442,470.0 1441,463.8 1440,467.5 1439,473.2 1438,476.6 1437,480.0 1436,483.5 1435,487.2 1434,490.7 1433,502.3 1432,505.4 1431,508.1 1430,506.0 1429,508.1 1428,509.9 1427,511.7 1426,513.4 1425,521.4 1424,522.9 1423,524.3 1422,525.5 1421,514.5 1420,515.5 1419,516.2 1418,516.8 1417,516.9 1416,517.3 1415,517.4 1414,517.5 1413,517.4 1412,516.9 1411,516.3 1410,515.2 1409,515.9 1408,517.1 1407,518.3 1406,519.3 1405,520.2 1404,526.5 1403,527.5 1402,528.8 1401,530.7 1400,533.0 1399,535.4 1398,548.7 1397,551.0 1396,553.1 1395,538.1 1394,540.1 1393,545.1 1392,547.0 1391,548.9 1390,550.8 1389,549.5 1388,551.1 1387,552.7 1386,554.2 1385,555.7 1384,557.1 1383,568.4 1382,569.7 1381,571.1 1380,563.8 1379,565.1 1378,566.5 1377,585.2 1376,586.7 1375,588.2 1374,574.7 1373,576.1 1372,577.6 1371,579.1 1370,580.7 1369,582.3 1368,582.3 1367,584.0 1366,585.7 1365,587.6 1364,606.5 1363,608.6 1362,591.8 1361,594.0 1360,596.4 1359,605.1 1358,607.5 1357,609.9 1356,606.1 1355,608.6 1354,611.1 1353,613.7 1352,618.1 1351,620.8 1350,623.5 1349,626.2 1348,629.0 1347,632.9 1346,635.8 1345,638.7 1344,641.6 1343,644.7 1342,648.1 1341,653.9 1340,658.2 1339,662.7 1338,667.1 1337,666.7 1336,670.5 1335,678.4 1334,681.8 1333,685.2 1332,688.7 1331,692.3 1330,696.1 1329,697.2 1328,702.1 1327,707.8 1326,718.1 1325,723.0 1324,733.3 1323,737.7 1322,730.7 1321,734.4 1320,737.7 1319,740.8 1318,743.6 1317,746.8 1316,750.1 1315,758.9 1314,762.9 1313,767.1 1312,771.5 1311,774.2 1310,778.8 1309,783.6 1308,788.4 1307,796.8 1306,801.5 1305,806.0 1304,810.5 1303,814.7 1302,818.9 1301,817.2 1300,821.3 1299,825.5 1298,829.7 1297,834.0 1296,838.4 1295,845.8 1294,850.6 1293,855.6 1292,861.0 1291,863.8 1290,869.6 1289,875.6 1288,881.6 1287,887.6 1286,902.5 1285,908.1 1284,913.5 1283,918.7 1282,917.9 1281,923.2 1280,928.8 1279,940.9 1278,947.1 1277,953.5 1276,952.2 1275,959.1 1274,966.0 1273,973.0 1272,980.2 1271,987.7 1270,994.2 1269,1001.8 1268,1010.2 1267,1017.4 1266,1023.6 1265,1030.1 1264,1036.5 1263,1043.6 1262,1049.7 1261,1055.6 1260,1061.3 1259,1066.6 1258,1071.8 1257,1076.9 1256,1081.4 1255,1086.1 1254,1090.6 1253,1096.1 1252,1100.0 1251,1103.8 1250,1107.5 1249,1111.6 1248,1115.7 1247,1119.6 1246,1123.5 1245,1127.4 1244,1131.1 1243,1134.8 1242,1138.4 1241,1142.0 1240,1145.5 1239,1148.9 1238,1152.2 1237,1155.6 1236,1158.8 1235,1162.1 1234,1165.3 1233,1168.5 1232,1171.6 1231,1174.8 1230,1177.9 1229,1181.1 1228,1184.2 1227,1187.4 1226,1190.5 1225,1193.5 1224,1196.6 1223,1199.6 1222,1202.6 1221,1205.6 1220,1208.5 1219,1211.5 1218,1214.5 1217,1217.4 1216,1220.4 1215,1223.3 1214,1226.3 1213,1229.3 1212,1232.3 1211,1235.3 1210,1238.3 1209,1241.4 1208,1244.4 1207,1247.5 1206,1250.6 1205,1253.7 1204,1256.8 1203,1259.9 1202,1263.0 1201,1266.1 1200,1269.2 1199,1272.3 1198,1275.4 1197,1278.5 1196,1281.6 1195,1284.7 1194,1287.8 1193,1290.8 1192,1293.9 1191,1297.0 1190,1300.0 1189,1303.0 1188,1305.9 1187,1308.8 1186,1311.7 1185,1314.7 1184,1317.8 1183,1321.0 1182,1324.4 1181,1327.9 1180,1331.5 1179,1335.1 1178,1338.9 1177,1342.7 1176,1346.5 1175,1350.4 1174,1354.4 1173,1358.5 1172,1362.5 1171,1366.5 1170,1370.6 1169,1374.6 1168,1378.7 1167,1382.8 1166,1386.7 1165,1390.7 1164,1394.6 1163,1398.3 1162,1401.5 1161,1404.1 1160,1406.7 1159,1409.0 1158,1411.7 1157,1415.5 1156,1420.1 1155,1424.6 1154,1427.6 1153,1430.2 1152,1431.4 1151,1432.6 1150,1433.5 1149,1434.4 1148,1435.1 1147,1435.8 1146,1436.4 1145,1437.0 1144,1437.4 1143,1437.8 1142,1438.1 1141,1438.4 1140,1438.6 1139,1438.8 1138,1438.9 1137,1439.1 1136,1439.2 1135,1439.3 1134,1439.5 1133,1439.6 1132,1439.6 1131,1439.7 1130,1439.7 1129,1439.8 1128,1439.7 1127,1439.7 1126,1439.6 1125,1439.6 1124,1439.5 1123,1439.4 1122,1439.2 1121,1439.1 1120,1439.0 1119,1438.8 1118,1438.6 1117,1438.4 1116,1438.0 1115,1437.7 1114,1437.2 1113,1436.6 1112,1436.0 1111,1435.4 1110,1434.7 1109,1433.9 1108,1433.1 1107,1432.3 1106,1431.5 1105,1430.7 1104,1429.8 1103,1428.8 1102,1427.7 1101,1426.6 1100,1425.4 1099,1424.2 1098,1422.8 1097,1421.4 1096,1419.8 1095,1418.2 1094,1416.1 1093,1413.6 1092,1411.0 1091,1408.3 1090,1405.4 1089,1402.6 1088,1399.8 1087,1397.3 1086,1394.9 1085,1392.4 1084,1390.0 1083,1387.5 1082,1385.0 1081,1382.4 1080,1379.9 1079,1377.4 1078,1375.0 1077,1372.5 1076,1369.9 1075,1367.2 1074,1364.0 1073,1360.3 1072,1355.4 1071,1348.2 1070,1340.8 1069,1334.0 1068,1327.2 1067,1320.9 1066,1315.1 1065,1309.4 1064,1304.3 1063,1300.3 1062,1298.1 1061,1296.7 1060,1295.5 1059,1294.5 1058,1293.4 1057,1289.8 1056,1288.1 1055,1286.6 1054,1284.9 1053,1285.5 1052,1285.0 1051,1285.6 1050,1290.4 1049,1290.8 1048,1291.0 1047,1291.2 1046,1286.7 1045,1286.6 1044,1286.5 1043,1286.3 1042,1286.0 1041,1287.9 1040,1287.6 1039,1287.2 1038,1286.8 1037,1285.2 1036,1284.8 1035,1283.9 1034,1283.7 1033,1283.4 1032,1283.2 1031,1286.5 1030,1286.3 1029,1286.1 1028,1285.8 1027,1285.5 1026,1282.2 1025,1281.8 1024,1281.3 1023,1280.3 1022,1279.8 1021,1279.2 1020,1278.5 1019,1280.6 1018,1279.9 1017,1279.2 1016,1278.4 1015,1277.6 1014,1276.8 1013,1272.8 1012,1271.9 1011,1273.9 1010,1272.8 1009,1271.8 1008,1270.6 1007,1272.2 1006,1271.1 1005,1269.9 1004,1268.7 1003,1267.5 1002,1266.3 1001,1260.0 1000,1258.7 999,1257.4 998,1256.2 997,1254.9 996,1253.6 995,1253.1 994,1251.9 993,1250.9 992,1249.8 991,1248.8 990,1247.8 989,1246.1 988,1245.1 987,1244.1 986,1243.2 985,1242.7 984,1241.8 983,1241.0 982,1240.3 981,1239.6 980,1238.7 979,1238.0 978,1237.1 977,1236.3 976,1235.5 975,1237.8 974,1236.7 973,1235.5 972,1234.0 971,1232.2 970,1230.3 969,1229.6 968,1227.5 967,1225.5 966,1223.6 965,1222.0 964,1220.6 963,1218.9 962,1217.7 961,1216.5 960,1215.3 959,1214.3 958,1213.5 957,1209.7 956,1209.3 955,1209.0 954,1208.7 953,1208.5 952,1208.3 951,1207.4 950,1207.2 949,1207.2 948,1207.4 947,1208.7 946,1209.6 945,1210.7 944,1211.8 943,1212.9 942,1214.0 941,1215.2 940,1216.5 939,1217.9 938,1219.4 937,1220.9 936,1220.9 935,1222.6 934,1224.3 933,1226.1 932,1233.8 931,1235.7 930,1233.2 929,1235.3 928,1237.6 927,1239.8 926,1243.8 925,1246.1 924,1248.5 923,1250.9 922,1253.6 921,1256.2 920,1259.9 919,1262.5 918,1265.1 917,1267.4 916,1269.6 915,1271.7 914,1270.2 913,1272.0 912,1273.8 911,1279.6 910,1281.4 909,1282.9 908,1279.7 907,1281.3 906,1285.1 905,1286.7 904,1288.4 903,1292.7 902,1294.3 901,1292.8 900,1294.4 899,1296.0 898,1297.6 897,1299.1 896,1300.5 895,1303.3 894,1304.6 893,1305.8 892,1307.2 891,1308.3 890,1309.4 889,1310.5 888,1311.6 887,1312.4 886,1313.4 885,1314.5 884,1317.0 883,1318.2 882,1319.5 881,1318.1 880,1319.3 879,1320.6 878,1321.8 877,1323.0 876,1324.3 875,1326.3 874,1327.6 873,1328.8 872,1330.0 871,1331.2 870,1331.8 869,1333.0 868,1334.3 867,1335.5 866,1336.7 865,1338.0 864,1340.5 863,1341.8 862,1343.1 861,1344.4 860,1345.7 859,1347.0 858,1348.3 857,1349.6 856,1350.9 855,1352.2 854,1354.7 853,1355.9 852,1357.2 851,1355.7 850,1357.0 849,1358.2 848,1359.4 847,1360.5 846,1362.4 845,1363.5 844,1364.6 843,1365.7 842,1366.1 841,1367.1 840,1368.1 839,1369.1 838,1370.0 837,1370.9 836,1371.8 835,1372.7 834,1373.6 833,1374.5 832,1375.4 831,1376.8 830,1377.6 829,1378.0 828,1378.9 827,1380.1 826,1380.9 825,1381.7 824,1382.6 823,1383.4 822,1384.2 821,1384.6 820,1385.5 819,1386.3 818,1387.2 817,1388.4 816,1389.3 815,1390.1 814,1390.9 813,1391.8 812,1392.6 811,1393.5 810,1394.0 809,1394.8 808,1395.7 807,1396.5 806,1397.5 805,1398.4 804,1400.7 803,1401.5 802,1402.3 801,1401.5 800,1402.2 799,1403.0 798,1403.7 797,1404.8 796,1405.5 795,1406.2 794,1406.9 793,1408.9 792,1409.6 791,1410.3 790,1411.1 789,1411.8 788,1412.5 787,1413.2 786,1413.9 785,1414.6 784,1415.2 783,1413.9 782,1414.6 781,1415.2 780,1415.9 779,1416.5 778,1417.2 777,1417.9 776,1418.5 775,1419.1 774,1420.1 773,1420.7 772,1421.4 771,1422.5 770,1423.1 769,1423.8 768,1424.4 767,1424.1 766,1424.7 765,1425.4 764,1426.0 763,1426.6 762,1427.1 761,1427.6 760,1428.2 759,1428.8 758,1429.6 757,1430.1 756,1430.5 755,1431.1 754,1431.6 753,1432.9 752,1433.4 751,1433.9 750,1434.5 749,1435.0 748,1435.4 747,1435.8 746,1436.2 745,1436.5 744,1437.5 743,1437.9 742,1438.3 741,1438.6 740,1439.0 739,1438.0 738,1438.4 737,1438.8 736,1439.2 735,1439.5 734,1439.7 733,1440.0 732,1440.4 731,1440.8 730,1441.2 729,1441.6 728,1442.0 727,1442.3 726,1442.7 725,1443.1 724,1443.5 723,1444.6 722,1445.0 721,1445.3 720,1445.6 719,1445.2 718,1445.5 717,1446.7 716,1447.0 715,1447.3 714,1447.6 713,1447.9 712,1448.1 711,1448.3 710,1448.5 709,1448.8 708,1449.0 707,1449.2 706,1449.4 705,1449.6 704,1449.8 703,1450.1 702,1450.0 701,1450.2 700,1450.3 699,1450.4 698,1450.5 697,1450.6 696,1451.3 695,1451.4 694,1451.5 693,1451.7 692,1451.7 691,1450.6 690,1450.6 689,1450.7 688,1450.8 687,1450.8 686,1450.8 685,1450.9 684,1450.9 683,1451.0 682,1451.0 681,1451.1 680,1451.1 679,1451.1 678,1451.2 677,1452.4 676,1452.4 675,1451.4 674,1451.4 673,1451.4 672,1451.4 671,1451.2 670,1451.2 669,1451.2 668,1451.2 667,1451.2 666,1451.7 665,1451.7 664,1451.7 663,1451.3 662,1451.3 661,1451.3 660,1451.3 659,1451.3 658,1451.3 657,1451.3 656,1451.3 655,1451.3 654,1451.3 653,1451.3 652,1451.3 651,1451.3 650,1451.3 649,1451.3 648,1451.3 647,1451.5 646,1451.5 645,1451.4 644,1451.4 643,1451.8 642,1451.8 641,1451.8 640,1451.8 639,1451.8 638,1451.8 637,1452.3 636,1452.3 635,1451.2 634,1451.2 633,1451.3 632,1451.3 631,1451.7 630,1451.7 629,1451.7 628,1451.7 627,1451.7 626,1451.3 625,1451.3 624,1451.3 623,1451.3 622,1452.7 621,1452.7 620,1452.7 619,1452.7 618,1452.7 617,1452.7 616,1451.2 615,1451.2 614,1451.2 613,1451.2 612,1451.2 611,1451.2 610,1451.3 609,1451.3 608,1451.3 607,1451.3 606,1451.3 605,1451.3 604,1451.3 603,1451.3 602,1451.3 601,1451.3 600,1452.8 599,1452.8 598,1452.8 597,1452.8 596,1451.7 595,1451.7 594,1451.7 593,1451.7 592,1451.7 591,1451.7 590,1451.8 589,1451.9 588,1451.6 587,1451.6 586,1451.6 585,1451.6 584,1451.7 583,1451.7 582,1452.5 581,1452.5 580,1452.5 579,1452.0 578,1452.0 577,1452.0 576,1452.1 575,1452.1 574,1451.6 573,1451.6 572,1451.6 571,1451.6 570,1452.7 569,1452.7 568,1452.7 567,1452.7 566,1452.8 565,1452.8"/></g>
<polyline points="565.0,1446.5 567.0,1446.5 569.0,1446.4 571.0,1446.4 573.0,1446.4 575.0,1446.4 577.0,1446.3 579.0,1446.3 581.0,1446.3 583.0,1446.3 585.0,1446.2 587.0,1446.2 589.0,1446.2 591.0,1446.2 593.0,1446.1 595.0,1446.1 597.0,1446.1 599.0,1446.1 601.0,1446.1 603.0,1446.1 605.0,1446.0 607.0,1446.0 609.0,1446.0 611.0,1446.0 613.0,1446.0 615.0,1446.0 617.0,1446.0 619.0,1446.0 621.0,1446.0 623.0,1446.0 625.0,1446.0 627.0,1446.0 629.0,1446.0 631.0,1446.0 633.0,1446.0 635.0,1446.0 637.0,1446.0 639.0,1446.0 641.0,1446.0 643.0,1446.0 645.0,1446.0 647.0,1446.0 649.0,1446.0 651.0,1446.0 653.0,1446.0 655.0,1446.0 657.0,1446.0 659.0,1446.0 661.0,1446.0 663.0,1446.0 665.0,1446.0 667.0,1446.0 669.0,1446.0 671.0,1446.0 673.0,1446.0 675.0,1445.9 677.0,1445.9 679.0,1445.8 681.0,1445.7 683.0,1445.7 685.0,1445.6 687.0,1445.5 689.0,1445.4 691.0,1445.4 693.0,1445.3 695.0,1445.2 697.0,1445.1 699.0,1444.9 701.0,1444.6 703.0,1444.3 705.0,1443.8 707.0,1443.4 709.0,1442.9 711.0,1442.3 713.0,1441.7 715.0,1441.0 717.0,1440.3 719.0,1439.6 721.0,1438.9 723.0,1438.2 725.0,1437.4 727.0,1436.6 729.0,1435.8 731.0,1435.0 733.0,1434.2 735.0,1433.4 737.0,1432.7 739.0,1431.9 741.0,1431.1 743.0,1430.3 745.0,1429.4 747.0,1428.5 749.0,1427.6 751.0,1426.7 753.0,1425.7 755.0,1424.7 757.0,1423.6 759.0,1422.5 761.0,1421.3 763.0,1420.1 765.0,1418.9 767.0,1417.7 769.0,1416.5 771.0,1415.2 773.0,1414.0 775.0,1412.7 777.0,1411.5 779.0,1410.2 781.0,1408.9 783.0,1407.6 785.0,1406.2 787.0,1404.9 789.0,1403.5 791.0,1402.1 793.0,1400.6 795.0,1399.2 797.0,1397.7 799.0,1396.1 801.0,1394.5 803.0,1392.9 805.0,1391.2 807.0,1389.6 809.0,1387.9 811.0,1386.2 813.0,1384.4 815.0,1382.7 817.0,1381.0 819.0,1379.3 821.0,1377.6 823.0,1375.9 825.0,1374.2 827.0,1372.5 829.0,1370.8 831.0,1369.0 833.0,1367.2 835.0,1365.4 837.0,1363.4 839.0,1361.4 841.0,1359.3 843.0,1357.1 845.0,1354.7 847.0,1352.3 849.0,1349.7 851.0,1347.2 853.0,1344.6 855.0,1342.0 857.0,1339.4 859.0,1336.8 861.0,1334.2 863.0,1331.8 865.0,1329.3 867.0,1326.9 869.0,1324.5 871.0,1322.0 873.0,1319.6 875.0,1317.1 877.0,1314.6 879.0,1312.1 881.0,1309.7 883.0,1307.2 885.0,1304.8 887.0,1302.2 889.0,1299.5 891.0,1296.7 893.0,1293.6 895.0,1290.3 897.0,1286.9 899.0,1283.3 901.0,1279.7 903.0,1276.2 905.0,1272.8 907.0,1269.4 909.0,1265.9 911.0,1262.1 913.0,1258.0 915.0,1253.2 917.0,1247.9 919.0,1242.8 921.0,1238.0 923.0,1233.4 925.0,1229.0 927.0,1224.8 929.0,1221.1 931.0,1217.7 933.0,1214.4 935.0,1211.4 937.0,1208.8 939.0,1206.6 941.0,1204.4 943.0,1202.3 945.0,1200.6 947.0,1199.5 949.0,1199.3 951.0,1199.5 953.0,1199.8 955.0,1200.3 957.0,1200.9 959.0,1201.7 961.0,1203.1 963.0,1205.0 965.0,1207.3 967.0,1209.8 969.0,1212.5 971.0,1216.2 973.0,1220.4 975.0,1224.4 977.0,1227.8 979.0,1230.0 981.0,1231.7 983.0,1233.2 985.0,1234.6 987.0,1236.1 989.0,1237.9 991.0,1239.8 993.0,1241.7 995.0,1243.8 997.0,1245.9 999.0,1248.2 1001.0,1250.6 1003.0,1253.1 1005.0,1255.6 1007.0,1258.0 1009.0,1260.2 1011.0,1262.3 1013.0,1264.4 1015.0,1266.4 1017.0,1268.1 1019.0,1269.5 1021.0,1270.9 1023.0,1272.2 1025.0,1273.3 1027.0,1274.2 1029.0,1274.9 1031.0,1275.5 1033.0,1276.0 1035.0,1276.5 1037.0,1277.1 1039.0,1277.8 1041.0,1278.6 1043.0,1279.4 1045.0,1279.9 1047.0,1280.1 1049.0,1279.4 1051.0,1278.0 1053.0,1276.7 1055.0,1276.2 1057.0,1277.8 1059.0,1280.9 1061.0,1284.9 1063.0,1288.7 1065.0,1292.6 1067.0,1297.3 1069.0,1304.3 1071.0,1315.1 1073.0,1327.2 1075.0,1340.8 1077.0,1355.4 1079.0,1364.0 1081.0,1369.9 1083.0,1374.8 1085.0,1379.9 1087.0,1385.0 1089.0,1389.9 1091.0,1394.8 1093.0,1399.8 1095.0,1405.4 1097.0,1411.0 1099.0,1415.6 1101.0,1418.8 1103.0,1421.6 1105.0,1424.0 1107.0,1426.1 1109.0,1427.9 1111.0,1429.5 1113.0,1431.0 1115.0,1432.3 1117.0,1433.4 1119.0,1434.0 1121.0,1434.3 1123.0,1434.6 1125.0,1434.8 1127.0,1434.9 1129.0,1435.0 1131.0,1434.9 1133.0,1434.8 1135.0,1434.6 1137.0,1434.3 1139.0,1434.0 1141.0,1433.5 1143.0,1432.6 1145.0,1431.5 1147.0,1429.9 1149.0,1427.6 1151.0,1420.1 1153.0,1411.7 1155.0,1406.5 1157.0,1401.5 1159.0,1394.6 1161.0,1386.7 1163.0,1378.7 1165.0,1370.6 1167.0,1362.5 1169.0,1354.4 1171.0,1346.5 1173.0,1338.9 1175.0,1331.5 1177.0,1324.4 1179.0,1317.8 1181.0,1311.7 1183.0,1305.9 1185.0,1300.0 1187.0,1293.9 1189.0,1287.8 1191.0,1281.6 1193.0,1275.4 1195.0,1269.2 1197.0,1263.0 1199.0,1256.8 1201.0,1250.6 1203.0,1244.4 1205.0,1238.3 1207.0,1232.3 1209.0,1226.3 1211.0,1220.4 1213.0,1214.5 1215.0,1208.5 1217.0,1202.6 1219.0,1196.6 1221.0,1190.5 1223.0,1184.2 1225.0,1177.9 1227.0,1171.6 1229.0,1165.3 1231.0,1158.8 1233.0,1152.2 1235.0,1145.5 1237.0,1138.4 1239.0,1131.1 1241.0,1123.5 1243.0,1115.7 1245.0,1107.5 1247.0,1099.0 1249.0,1089.9 1251.0,1080.4 1253.0,1070.1 1255.0,1058.9 1257.0,1046.8 1259.0,1034.1 1261.0,1020.9 1263.0,1006.4 1265.0,991.0 1267.0,975.8 1269.0,961.5 1271.0,947.6 1273.0,934.3 1275.0,922.1 1277.0,911.0 1279.0,900.5 1281.0,889.3 1283.0,877.4 1285.0,865.3 1287.0,853.8 1289.0,843.3 1291.0,833.9 1293.0,825.1 1295.0,816.6 1297.0,808.2 1299.0,799.6 1301.0,790.4 1303.0,780.9 1305.0,771.2 1307.0,761.8 1309.0,753.1 1311.0,745.4 1313.0,738.8 1315.0,732.6 1317.0,725.6 1319.0,717.0 1321.0,707.3 1323.0,696.1 1325.0,686.9 1327.0,679.3 1329.0,672.3 1331.0,665.2 1333.0,657.3 1335.0,648.3 1337.0,640.0 1339.0,633.4 1341.0,627.5 1343.0,621.7 1345.0,616.0 1347.0,610.5 1349.0,605.3 1351.0,600.2 1353.0,595.1 1355.0,590.1 1357.0,585.4 1359.0,581.0 1361.0,577.0 1363.0,573.4 1365.0,570.1 1367.0,567.0 1369.0,564.1 1371.0,561.2 1373.0,558.3 1375.0,555.5 1377.0,552.8 1379.0,550.2 1381.0,547.5 1383.0,544.6 1385.0,541.3 1387.0,537.8 1389.0,534.0 1391.0,530.0 1393.0,526.0 1395.0,521.3 1397.0,516.7 1399.0,513.4 1401.0,511.4 1403.0,509.7 1405.0,507.4 1407.0,504.7 1409.0,502.5 1411.0,501.6 1413.0,505.5 1415.0,507.1 1417.0,506.0 1419.0,503.9 1421.0,501.1 1423.0,497.7 1425.0,494.2 1427.0,489.4 1429.0,483.0 1431.0,475.8 1433.0,469.0 1435.0,462.0 1437.0,454.8 1439.0,447.6 1441.0,440.9 1443.0,434.8 1445.0,429.3 1447.0,424.0 1449.0,418.7 1451.0,413.1 1453.0,407.1 1455.0,400.9 1457.0,394.8 1459.0,389.1 1461.0,383.9 1463.0,379.0 1465.0,374.2 1467.0,369.5 1469.0,364.4 1471.0,358.7 1473.0,352.8 1475.0,347.5 1477.0,343.2 1479.0,340.5 1481.0,338.6 1483.0,337.0 1485.0,334.9 1487.0,332.5 1489.0,330.0 1491.0,327.3 1493.0,324.6 1495.0,322.1 1497.0,319.8 1499.0,317.8 1501.0,316.2 1503.0,314.7 1505.0,313.1 1507.0,311.6 1509.0,310.3 1511.0,309.3 1513.0,308.5 1515.0,308.1 1517.0,308.0 1519.0,308.2 1521.0,308.6 1523.0,309.2 1525.0,309.9 1527.0,310.7 1529.0,311.6 1531.0,312.5 1533.0,313.6 1535.0,315.2 1537.0,317.4 1539.0,320.0 1541.0,322.7 1543.0,325.6 1545.0,328.3 1547.0,330.9 1549.0,333.0 1551.0,335.0 1553.0,336.9 1555.0,338.8 1557.0,340.9 1559.0,343.2 1561.0,346.0 1563.0,348.8 1565.0,351.1 1567.0,353.0 1569.0,354.8 1571.0,356.8 1573.0,359.2 1575.0,361.9 1577.0,365.6 1579.0,372.2 1581.0,383.4 1583.0,392.0 1585.0,399.9 1587.0,407.5 1589.0,415.1 1591.0,423.0 1593.0,430.8 1595.0,438.6 1597.0,446.8 1599.0,455.6 1601.0,465.4 1603.0,475.6 1605.0,485.9 1607.0,496.1 1609.0,506.4 1611.0,516.3 1613.0,525.2 1615.0,532.6 1617.0,539.6 1619.0,547.5 1621.0,557.7 1623.0,573.8 1625.0,593.0 1627.0,609.2 1629.0,622.0 1631.0,633.6 1633.0,644.3 1635.0,654.4 1637.0,663.7 1639.0,672.2 1641.0,680.5 1643.0,689.1 1645.0,698.3 1647.0,707.9 1649.0,718.1 1651.0,729.2 1653.0,741.1 1655.0,751.9 1657.0,761.6 1659.0,771.3 1661.0,782.2 1663.0,794.1 1665.0,805.2 1667.0,815.6 1669.0,825.3 1671.0,834.4 1673.0,843.3 1675.0,851.2 1677.0,857.2 1679.0,861.8 1681.0,865.6 1683.0,868.9 1685.0,872.3 1687.0,875.5 1689.0,878.5 1691.0,881.6 1693.0,885.2 1695.0,889.5 1697.0,893.9 1699.0,898.0 1701.0,901.8 1703.0,905.5 1705.0,909.2 1707.0,912.7 1709.0,916.1 1711.0,919.2 1713.0,922.0 1715.0,924.6 1717.0,927.1 1719.0,929.3 1721.0,931.5 1723.0,933.6 1725.0,935.7 1727.0,937.7 1729.0,939.7 1731.0,941.8 1733.0,944.0 1735.0,946.3 1737.0,948.7 1739.0,951.1 1741.0,953.6 1743.0,956.1 1745.0,958.6 1747.0,961.1 1749.0,963.7 1751.0,966.3 1753.0,968.9 1755.0,971.6 1757.0,974.2 1759.0,977.0 1761.0,979.7 1763.0,982.5 1765.0,985.3 1767.0,988.1 1769.0,990.8 1771.0,993.6 1773.0,996.3 1775.0,998.9 1777.0,1001.5 1779.0,1004.0 1781.0,1006.6 1783.0,1009.1 1785.0,1011.8 1787.0,1014.5 1789.0,1017.3 1791.0,1020.3 1793.0,1023.4 1795.0,1026.7 1797.0,1030.1 1799.0,1033.6 1801.0,1037.3 1803.0,1041.0 1805.0,1044.8 1807.0,1049.0 1809.0,1053.4 1811.0,1057.6 1813.0,1061.2 1815.0,1064.2 1817.0,1066.9 1819.0,1069.4 1821.0,1071.8 1823.0,1074.1 1825.0,1076.5 1827.0,1078.9 1829.0,1081.5 1831.0,1084.3 1833.0,1087.4 1835.0,1090.7 1837.0,1094.2 1839.0,1097.7 1841.0,1101.4 1843.0,1105.0 1845.0,1108.7 1847.0,1112.2 1849.0,1115.6 1851.0,1119.0 1853.0,1122.4 1855.0,1125.8 1857.0,1129.1 1859.0,1132.4 1861.0,1135.7 1863.0,1138.9 1865.0,1142.1 1867.0,1145.3 1869.0,1148.3 1871.0,1151.4 1873.0,1154.4 1875.0,1157.3 1877.0,1160.3 1879.0,1163.2 1881.0,1166.1 1883.0,1169.0 1885.0,1172.0 1887.0,1174.9 1889.0,1178.0 1891.0,1181.0 1893.0,1184.1 1895.0,1187.2 1897.0,1190.2 1899.0,1193.2 1901.0,1196.1 1903.0,1198.9 1905.0,1201.6 1907.0,1204.2 1909.0,1206.7 1911.0,1209.2 1913.0,1211.6 1915.0,1214.0 1917.0,1216.3 1919.0,1218.6 1921.0,1220.9 1923.0,1223.1 1925.0,1225.2 1927.0,1227.4 1929.0,1229.4 1931.0,1231.5 1933.0,1233.5 1935.0,1235.6 1937.0,1237.7 1939.0,1239.7 1941.0,1241.7 1943.0,1243.5 1945.0,1245.3 1947.0,1246.9 1949.0,1248.4 1951.0,1249.6 1953.0,1250.8 1955.0,1251.9 1957.0,1252.9 1959.0,1253.9 1961.0,1254.8 1963.0,1255.6 1965.0,1256.3 1967.0,1257.0 1969.0,1257.5 1971.0,1258.0 1973.0,1258.5 1975.0,1258.9 1977.0,1259.2 1979.0,1259.5 1981.0,1259.8 1983.0,1260.1 1985.0,1260.5 1987.0,1260.8 1989.0,1261.1 1991.0,1261.5 1993.0,1261.9 1995.0,1262.4 1997.0,1262.9 1999.0,1263.6 2001.0,1264.3 2003.0,1265.2 2005.0,1266.2 2007.0,1267.2 2009.0,1268.3 2011.0,1269.3 2013.0,1270.4 2015.0,1271.4 2017.0,1272.4 2019.0,1273.4 2021.0,1274.5 2023.0,1275.6 2025.0,1276.8 2027.0,1278.0 2029.0,1279.4 2031.0,1280.8 2033.0,1282.4 2035.0,1284.3 2037.0,1286.7 2039.0,1289.4 2041.0,1292.3 2043.0,1295.1 2045.0,1297.9 2047.0,1300.4 2049.0,1302.8 2051.0,1305.2 2053.0,1307.6 2055.0,1309.9 2057.0,1312.2 2059.0,1314.5 2061.0,1316.7 2063.0,1318.8 2065.0,1320.8 2067.0,1322.8 2069.0,1324.9 2071.0,1326.9 2073.0,1328.9 2075.0,1330.9 2077.0,1332.8 2079.0,1334.6 2081.0,1336.4 2083.0,1338.0 2085.0,1339.5 2087.0,1340.9 2089.0,1342.0 2091.0,1343.0 2093.0,1343.9 2095.0,1344.7 2097.0,1345.4 2099.0,1346.0 2101.0,1346.6 2103.0,1347.2 2105.0,1347.9 2107.0,1348.5 2109.0,1349.3 2111.0,1350.1 2113.0,1351.0 2115.0,1352.1 2117.0,1353.5 2119.0,1355.1 2121.0,1356.9 2123.0,1358.8 2125.0,1360.7 2127.0,1362.7 2129.0,1364.7 2131.0,1366.6 2133.0,1368.3 2135.0,1370.0 2137.0,1371.8 2139.0,1373.5 2141.0,1375.2 2143.0,1376.8 2145.0,1378.4 2147.0,1380.0 2149.0,1381.6 2151.0,1383.1 2153.0,1384.6 2155.0,1386.1 2157.0,1387.6 2159.0,1389.0 2161.0,1390.4 2163.0,1391.9 2165.0,1393.3 2167.0,1394.7 2169.0,1396.2 2171.0,1397.6 2173.0,1399.1 2175.0,1400.5 2177.0,1402.0 2179.0,1403.3 2181.0,1404.7 2183.0,1406.0 2185.0,1407.2 2187.0,1408.4 2189.0,1409.4 2191.0,1410.4 2193.0,1411.4 2195.0,1412.3 2197.0,1413.2 2199.0,1414.1 2201.0,1414.9 2203.0,1415.7 2205.0,1416.5 2207.0,1417.3 2209.0,1418.0 2211.0,1418.6 2213.0,1419.3 2215.0,1419.9 2217.0,1420.5 2219.0,1421.0 2221.0,1421.6 2223.0,1422.1 2225.0,1422.5 2227.0,1423.0 2229.0,1423.5 2231.0,1423.9 2233.0,1424.4 2235.0,1424.8 2237.0,1425.3 2239.0,1425.8 2241.0,1426.2 2243.0,1426.8 2245.0,1427.3 2247.0,1427.8 2249.0,1428.4 2251.0,1428.9 2253.0,1429.4 2255.0,1430.0 2257.0,1430.4 2259.0,1430.9 2261.0,1431.4 2263.0,1431.8 2265.0,1432.2 2267.0,1432.7 2269.0,1433.1 2271.0,1433.5 2273.0,1433.9 2275.0,1434.3 2277.0,1434.7 2279.0,1435.1 2281.0,1435.4 2283.0,1435.8 2285.0,1436.1 2287.0,1436.5 2289.0,1436.8 2291.0,1437.1 2293.0,1437.4 2295.0,1437.7 2297.0,1438.0 2299.0,1438.3 2301.0,1438.6 2303.0,1438.9 2305.0,1439.2 2307.0,1439.4 2309.0,1439.7 2311.0,1440.0 2313.0,1440.2 2315.0,1440.4 2317.0,1440.7 2319.0,1440.9 2321.0,1441.1 2323.0,1441.4 2325.0,1441.6 2327.0,1441.8 2329.0,1442.0 2331.0,1442.2 2333.0,1442.3 2335.0,1442.5 2337.0,1442.6 2339.0,1442.8 2341.0,1442.9 2343.0,1443.0 2345.0,1443.1 2347.0,1443.3 2349.0,1443.4 2351.0,1443.5 2353.0,1443.6 2355.0,1443.7 2357.0,1443.7 2359.0,1443.8 2361.0,1443.9 2363.0,1443.9 2365.0,1444.0 2366.0,1444.0" fill="none" stroke="#fe0000" stroke-width="9.5" stroke-linejoin="round" stroke-linecap="butt"/>
<rect x="449" y="46" width="1940.5" height="1422.5" fill="none" stroke="#000" stroke-width="7.5"/>
<rect x="493" y="73" width="912" height="182" fill="none" stroke="#111" stroke-width="3.8"/>
<line x1="543.5" y1="123" x2="708.5" y2="123" stroke="#000" stroke-width="7"/>
<line x1="543.5" y1="209" x2="708.5" y2="209" stroke="#cc2020" stroke-width="7"/>
<g font-family="Liberation Sans, Arial, sans-serif" font-size="71" fill="#000">
<text x="724" y="146.6">Before coating GZO</text>
<text x="725" y="232.5">After coating GZO</text>
</g>
<g font-family="Liberation Sans, Arial, sans-serif" font-weight="bold" font-size="74.5" fill="#000">
<text x="449.5" y="1558" text-anchor="middle">300</text><text x="708.3" y="1558" text-anchor="middle">400</text><text x="967.1" y="1558" text-anchor="middle">500</text><text x="1225.9" y="1558" text-anchor="middle">600</text><text x="1484.7" y="1558" text-anchor="middle">700</text><text x="1743.5" y="1558" text-anchor="middle">800</text><text x="2002.3" y="1558" text-anchor="middle">900</text><text x="2261.1" y="1558" text-anchor="middle">1000</text>
<text x="418.2" y="1463.0" text-anchor="end">0</text><text x="418.2" y="1208.9" text-anchor="end">10000</text><text x="418.2" y="954.9" text-anchor="end">20000</text><text x="418.2" y="700.8" text-anchor="end">30000</text><text x="418.2" y="446.8" text-anchor="end">40000</text><text x="418.2" y="192.7" text-anchor="end">50000</text>
</g>
<text x="1138.5" y="1690.8" font-family="Liberation Sans, Arial, sans-serif" font-weight="bold" font-size="75.3">Wavlength (nm)</text>
<text transform="translate(105.6,1037) rotate(-90)" font-family="Liberation Sans, Arial, sans-serif" font-weight="bold" font-size="76.8">Intensity (Counts)</text>
</svg>
</body></html>
